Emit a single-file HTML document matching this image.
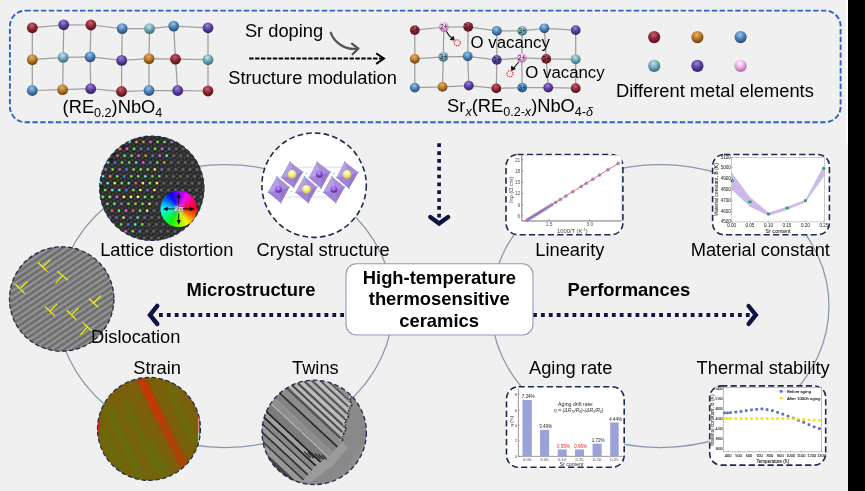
<!DOCTYPE html>
<html><head><meta charset="utf-8"><title>Graphical abstract</title>
<style>
html,body{margin:0;padding:0;background:#f0f0f0;}
body{width:865px;height:491px;overflow:hidden;position:relative;font-family:"Liberation Sans",sans-serif;}
svg{position:absolute;left:0;top:0;display:block;will-change:transform;}
text{font-family:"Liberation Sans",sans-serif;}
.t18{font-size:18.3px;}.t18b{font-size:18.3px;}
.b18{font-size:18.4px;font-weight:bold;}
.tiny{font-size:4.2px;fill:#222;}
</style></head><body>
<svg width="865" height="491" viewBox="0 0 865 491">
<defs>
<radialGradient id="g_red" cx="0.44" cy="0.3" r="0.72"><stop offset="0" stop-color="#c66270"/><stop offset="0.5" stop-color="#8e2636"/><stop offset="1" stop-color="#4a0e18"/></radialGradient>
<radialGradient id="g_purple" cx="0.44" cy="0.3" r="0.72"><stop offset="0" stop-color="#9a82d8"/><stop offset="0.5" stop-color="#5d419e"/><stop offset="1" stop-color="#2c1c58"/></radialGradient>
<radialGradient id="g_blue" cx="0.44" cy="0.3" r="0.72"><stop offset="0" stop-color="#98c6ec"/><stop offset="0.5" stop-color="#4a80b8"/><stop offset="1" stop-color="#264868"/></radialGradient>
<radialGradient id="g_cyan" cx="0.44" cy="0.3" r="0.72"><stop offset="0" stop-color="#bce6ee"/><stop offset="0.5" stop-color="#6ea8b4"/><stop offset="1" stop-color="#386470"/></radialGradient>
<radialGradient id="g_orange" cx="0.44" cy="0.3" r="0.72"><stop offset="0" stop-color="#e6b068"/><stop offset="0.5" stop-color="#b47a28"/><stop offset="1" stop-color="#5c3a0e"/></radialGradient>
<radialGradient id="g_pink" cx="0.44" cy="0.3" r="0.72"><stop offset="0" stop-color="#ffffff"/><stop offset="0.5" stop-color="#eaa6e2"/><stop offset="1" stop-color="#9c6c9c"/></radialGradient>
<radialGradient id="g_yellow" cx="0.44" cy="0.3" r="0.72"><stop offset="0" stop-color="#ffffd8"/><stop offset="0.5" stop-color="#f0f07c"/><stop offset="1" stop-color="#b8b848"/></radialGradient>
<radialGradient id="g_violet" cx="0.44" cy="0.3" r="0.72"><stop offset="0" stop-color="#c9a8ff"/><stop offset="0.5" stop-color="#8a4fe0"/><stop offset="1" stop-color="#4a2090"/></radialGradient>
<clipPath id="cLat"><circle cx="151.8" cy="188.2" r="52.2"/></clipPath>
<clipPath id="cDis"><circle cx="61.7" cy="299" r="52.2"/></clipPath>
<clipPath id="cStr"><circle cx="149" cy="428.9" r="51.5"/></clipPath>
<clipPath id="cTw"><circle cx="314.2" cy="432.4" r="52.2"/></clipPath>
<radialGradient id="blob" cx="0.5" cy="0.5" r="0.5"><stop offset="0" stop-color="#6a6a6a"/><stop offset="0.5" stop-color="#505050"/><stop offset="1" stop-color="#282828" stop-opacity="0.5"/></radialGradient><radialGradient id="blob2" cx="0.5" cy="0.5" r="0.5"><stop offset="0" stop-color="#464646"/><stop offset="0.6" stop-color="#363636"/><stop offset="1" stop-color="#222" stop-opacity="0.5"/></radialGradient>
<linearGradient id="stripe" x1="0" y1="0" x2="1" y2="0"><stop offset="0" stop-color="#626262"/><stop offset="0.5" stop-color="#9a9a9a"/><stop offset="1" stop-color="#626262"/></linearGradient>
<pattern id="pDis" width="5.0" height="10" patternUnits="userSpaceOnUse" patternTransform="rotate(56 61.7 299)"><rect width="5.0" height="10" fill="url(#stripe)"/></pattern>
</defs>
<rect x="0" y="0" width="865" height="491" fill="#f0f0f0"/>
<linearGradient id="wfade" x1="0" y1="0" x2="0" y2="1"><stop offset="0" stop-color="#fff"/><stop offset="0.9" stop-color="#fff"/><stop offset="1" stop-color="#f0f0f0"/></linearGradient><rect x="846" y="0" width="2.2" height="150" fill="url(#wfade)"/>
<rect x="848" y="0" width="17" height="491" fill="#000"/>
<g fill="none" stroke="#8896ae" stroke-width="1.25">
<ellipse cx="225" cy="306" rx="168" ry="141.5"/>
<ellipse cx="660" cy="306" rx="169" ry="141.5"/>
</g>
<rect x="9.9" y="10.6" width="830.7" height="111.6" rx="15.5" ry="15.5" fill="#f0f0f0" stroke="#2f62c4" stroke-width="1.9" stroke-dasharray="5.4 2.4"/>
<g stroke="#9e9e9e" stroke-width="1.25" fill="none">
<polyline points="32.3,27.8 63.7,24.8 90.9,25.0 122.2,28.6 149.5,28.6 173.7,26.1 208,27.8"/>
<polyline points="32.3,59.6 63.2,57.4 90.1,56.9 121.7,60.4 149,58.6 175.5,59.2 208,59.6"/>
<polyline points="32.3,90.5 62.6,89.69999999999999 90.7,88.69999999999999 121.5,91.5 149,90.5 177.7,90.5 208,91.0"/>
<polyline points="32.3,27.8 32.3,59.6 32.3,90.5"/>
<polyline points="63.7,24.8 63.2,57.4 62.6,89.69999999999999"/>
<polyline points="90.9,25.0 90.1,56.9 90.7,88.69999999999999"/>
<polyline points="122.2,28.6 121.7,60.4 121.5,91.5"/>
<polyline points="149.5,28.6 149,58.6 149,90.5"/>
<polyline points="173.7,26.1 175.5,59.2 177.7,90.5"/>
<polyline points="208,27.8 208,59.6 208,91.0"/>
</g>
<circle cx="32.3" cy="27.8" r="5.4" fill="url(#g_red)"/>
<circle cx="63.7" cy="24.8" r="5.4" fill="url(#g_purple)"/>
<circle cx="90.9" cy="25.0" r="5.4" fill="url(#g_red)"/>
<circle cx="122.2" cy="28.6" r="5.4" fill="url(#g_blue)"/>
<circle cx="149.5" cy="28.6" r="5.4" fill="url(#g_cyan)"/>
<circle cx="173.7" cy="26.1" r="5.4" fill="url(#g_blue)"/>
<circle cx="208.0" cy="27.8" r="5.4" fill="url(#g_purple)"/>
<circle cx="32.3" cy="59.6" r="5.4" fill="url(#g_orange)"/>
<circle cx="63.2" cy="57.4" r="5.4" fill="url(#g_cyan)"/>
<circle cx="90.1" cy="56.9" r="5.4" fill="url(#g_blue)"/>
<circle cx="121.7" cy="60.4" r="5.4" fill="url(#g_purple)"/>
<circle cx="149.0" cy="58.6" r="5.4" fill="url(#g_orange)"/>
<circle cx="175.5" cy="59.2" r="5.4" fill="url(#g_red)"/>
<circle cx="208.0" cy="59.6" r="5.4" fill="url(#g_cyan)"/>
<circle cx="32.3" cy="90.5" r="5.4" fill="url(#g_blue)"/>
<circle cx="62.6" cy="89.7" r="5.4" fill="url(#g_orange)"/>
<circle cx="90.7" cy="88.7" r="5.4" fill="url(#g_purple)"/>
<circle cx="121.5" cy="91.5" r="5.4" fill="url(#g_red)"/>
<circle cx="149.0" cy="90.5" r="5.4" fill="url(#g_blue)"/>
<circle cx="177.7" cy="90.5" r="5.4" fill="url(#g_purple)"/>
<circle cx="208.0" cy="91.0" r="5.4" fill="url(#g_red)"/>
<g stroke="#9e9e9e" stroke-width="1.25" fill="none">
<polyline points="414.8,30.1 443.8,27.0 468.2,26.8 496.8,30.900000000000002 522.2,30.900000000000002 544.4,28.3 575.7,30.1"/>
<polyline points="414.8,58.9 443.3,56.8 467.7,56.3 496.8,59.9 521.7,57.9 546.2,58.9 575.7,59.3"/>
<polyline points="414.8,87.6 442.5,86.89999999999999 468.8,85.6 496.3,88.39999999999999 522.2,87.6 548.2,87.6 575.7,88.2"/>
<polyline points="414.8,30.1 414.8,58.9 414.8,87.6"/>
<polyline points="443.8,27.0 443.3,56.8 442.5,86.89999999999999"/>
<polyline points="468.2,26.8 467.7,56.3 468.8,85.6"/>
<polyline points="496.8,30.900000000000002 496.8,59.9 496.3,88.39999999999999"/>
<polyline points="522.2,30.900000000000002 521.7,57.9 522.2,87.6"/>
<polyline points="544.4,28.3 546.2,58.9 548.2,87.6"/>
<polyline points="575.7,30.1 575.7,59.3 575.7,88.2"/>
</g>
<circle cx="414.8" cy="30.1" r="4.9" fill="url(#g_red)"/>
<text x="414.8" y="32.4" font-size="6.4" text-anchor="middle" fill="#111">3+</text>
<circle cx="443.8" cy="27.0" r="4.9" fill="url(#g_pink)"/>
<text x="443.8" y="29.3" font-size="6.4" text-anchor="middle" fill="#111">2+</text>
<circle cx="468.2" cy="26.8" r="4.9" fill="url(#g_red)"/>
<text x="468.2" y="29.1" font-size="6.4" text-anchor="middle" fill="#111">3+</text>
<circle cx="496.8" cy="30.9" r="4.9" fill="url(#g_blue)"/>
<circle cx="522.2" cy="30.9" r="4.9" fill="url(#g_cyan)"/>
<text x="522.2" y="33.2" font-size="6.4" text-anchor="middle" fill="#111">3+</text>
<circle cx="544.4" cy="28.3" r="4.9" fill="url(#g_blue)"/>
<circle cx="575.7" cy="30.1" r="4.9" fill="url(#g_purple)"/>
<circle cx="414.8" cy="58.9" r="4.9" fill="url(#g_orange)"/>
<circle cx="443.3" cy="56.8" r="4.9" fill="url(#g_cyan)"/>
<text x="443.3" y="59.1" font-size="6.4" text-anchor="middle" fill="#111">3+</text>
<circle cx="467.7" cy="56.3" r="4.9" fill="url(#g_blue)"/>
<circle cx="496.8" cy="59.9" r="4.9" fill="url(#g_purple)"/>
<text x="496.8" y="62.2" font-size="6.4" text-anchor="middle" fill="#111">3+</text>
<circle cx="521.7" cy="57.9" r="4.9" fill="url(#g_pink)"/>
<text x="521.7" y="60.2" font-size="6.4" text-anchor="middle" fill="#111">2+</text>
<circle cx="546.2" cy="58.9" r="4.9" fill="url(#g_red)"/>
<text x="546.2" y="61.2" font-size="6.4" text-anchor="middle" fill="#111">3+</text>
<circle cx="575.7" cy="59.3" r="4.9" fill="url(#g_cyan)"/>
<circle cx="414.8" cy="87.6" r="4.9" fill="url(#g_blue)"/>
<circle cx="442.5" cy="86.9" r="4.9" fill="url(#g_orange)"/>
<circle cx="468.8" cy="85.6" r="4.9" fill="url(#g_purple)"/>
<circle cx="496.3" cy="88.4" r="4.9" fill="url(#g_red)"/>
<circle cx="522.2" cy="87.6" r="4.9" fill="url(#g_blue)"/>
<text x="522.2" y="89.9" font-size="6.4" text-anchor="middle" fill="#111">3+</text>
<circle cx="548.2" cy="87.6" r="4.9" fill="url(#g_purple)"/>
<circle cx="575.7" cy="88.2" r="4.9" fill="url(#g_red)"/>
<g fill="none" stroke="#ee2a32" stroke-width="1.15" stroke-dasharray="1.5 0.9"><circle cx="457.3" cy="42.8" r="3.1"/><circle cx="510" cy="73.8" r="3.1"/></g>
<g fill="none" stroke="#111" stroke-width="1.1" stroke-linejoin="round"><path d="M446.3 31.2 Q448.5 36 453.5 39.6"/><path d="M450.2 39.4 L454 40 L453.2 36.2" fill="#111"/><path d="M518.8 62.0 L512.2 69.6"/><path d="M511.6 66 L511.8 70.2 L515.4 68.6" fill="#111"/></g>
<circle cx="654.2" cy="37.1" r="6.1" fill="url(#g_red)"/>
<circle cx="697.4" cy="37.1" r="6.1" fill="url(#g_orange)"/>
<circle cx="740.6" cy="37.1" r="6.1" fill="url(#g_blue)"/>
<circle cx="654.2" cy="65.9" r="6.1" fill="url(#g_cyan)"/>
<circle cx="697.4" cy="65.9" r="6.1" fill="url(#g_purple)"/>
<circle cx="740.6" cy="65.9" r="6.1" fill="url(#g_pink)"/>
<text class="t18" x="62.6" y="113.3">(RE<tspan font-size="12.6" dy="3.5">0.2</tspan><tspan dy="-3.5">)NbO</tspan><tspan font-size="12.6" dy="3.5">4</tspan></text>
<text class="t18" x="244.9" y="36.9">Sr doping</text>
<text class="t18" x="228.2" y="84">Structure modulation</text>
<text font-size="16.8" x="470.6" y="47.9">O vacancy</text>
<text font-size="16.8" x="525.3" y="77.7">O vacancy</text>
<text class="t18" x="447.1" y="112">Sr<tspan font-size="12.6" font-style="italic" dy="3.5">x</tspan><tspan dy="-3.5">(RE</tspan><tspan font-size="12.6" dy="3.5">0.2-<tspan font-style="italic">x</tspan></tspan><tspan dy="-3.5">)NbO</tspan><tspan font-size="12.6" dy="3.5">4-<tspan font-style="italic">δ</tspan></tspan></text>
<text class="t18" x="616.0" y="96.5">Different metal elements</text>
<g fill="none" stroke="#000" stroke-width="1.9"><path d="M249.2 58.55 H383" stroke-dasharray="4.4 1.5"/><path d="M376.2 53.4 L384 58.55 L376.2 63.9" stroke-linejoin="miter"/></g>
<g fill="none" stroke="#555" stroke-width="2.3" stroke-linecap="round" stroke-linejoin="round"><path d="M330.8 32.8 C334 41.5, 344 50.5, 358 48.7"/><path d="M352 43.6 L358.3 48.6 L352.6 54.2"/></g>
<g fill="none" stroke="#0d1445"><path d="M439.1 143.35 V219" stroke-width="3.7" stroke-dasharray="3.7 4.13"/><path d="M430.3 217.0 L439.1 223.5 L448.1 217.0" stroke-width="4.4" stroke-linecap="round" stroke-linejoin="miter"/></g>
<g fill="none" stroke="#0d1445"><path d="M159.0 315 H346" stroke-width="3.8" stroke-dasharray="3.8 4.08"/><path d="M157.3 305.9 L150.0 315 L157.3 324.0" stroke-width="4.4" stroke-linecap="round" stroke-linejoin="miter"/>
<path d="M533.1 315 H751" stroke-width="3.8" stroke-dasharray="3.8 4.08"/><path d="M748.6 306.0 L755.8 315 L748.6 323.9" stroke-width="4.4" stroke-linecap="round" stroke-linejoin="miter"/></g>
<rect x="346" y="263.7" width="187" height="71.3" rx="10.5" ry="10.5" fill="#fff" stroke="#8f9bb6" stroke-width="1.1"/>
<text class="b18" x="439.4" y="283.8" text-anchor="middle">High-temperature</text>
<text class="b18" x="439.3" y="305.4" text-anchor="middle">thermosensitive</text>
<text class="b18" x="439.1" y="327.3" text-anchor="middle">ceramics</text>
<text class="b18" x="186.6" y="296.4">Microstructure</text>
<text class="b18" x="567.5" y="296.4">Performances</text>
<g clip-path="url(#cLat)">
<rect x="98.60000000000001" y="135.0" width="106.4" height="106.4" fill="#1f1f1f"/>
<circle cx="104.9" cy="164.8" r="2.3" fill="url(#blob2)"/>
<circle cx="108.7" cy="167.1" r="2.3" fill="url(#blob2)"/>
<circle cx="102.4" cy="171.7" r="2.3" fill="url(#blob2)"/>
<circle cx="106.3" cy="174.0" r="2.3" fill="url(#blob2)"/>
<circle cx="100.0" cy="178.5" r="2.3" fill="url(#blob2)"/>
<circle cx="103.8" cy="180.8" r="2.3" fill="url(#blob2)"/>
<circle cx="116.8" cy="151.1" r="2.3" fill="url(#blob2)"/>
<circle cx="120.7" cy="153.4" r="2.3" fill="url(#blob2)"/>
<circle cx="114.3" cy="157.9" r="2.3" fill="url(#blob2)"/>
<circle cx="118.2" cy="160.2" r="2.3" fill="url(#blob2)"/>
<circle cx="111.9" cy="164.8" r="2.3" fill="url(#blob2)"/>
<circle cx="115.8" cy="167.1" r="2.3" fill="url(#blob2)"/>
<circle cx="109.4" cy="171.7" r="2.3" fill="url(#blob2)"/>
<circle cx="113.3" cy="174.0" r="2.3" fill="url(#blob2)"/>
<circle cx="107.0" cy="178.5" r="2.3" fill="url(#blob2)"/>
<circle cx="110.9" cy="180.8" r="2.3" fill="url(#blob2)"/>
<circle cx="104.5" cy="185.4" r="2.3" fill="url(#blob2)"/>
<circle cx="108.4" cy="187.7" r="2.3" fill="url(#blob2)"/>
<circle cx="102.1" cy="192.3" r="2.3" fill="url(#blob2)"/>
<circle cx="106.0" cy="194.6" r="2.3" fill="url(#blob2)"/>
<circle cx="99.6" cy="199.2" r="2.3" fill="url(#blob2)"/>
<circle cx="103.5" cy="201.5" r="2.3" fill="url(#blob2)"/>
<circle cx="126.3" cy="144.2" r="2.3" fill="url(#blob2)"/>
<circle cx="130.1" cy="146.5" r="2.3" fill="url(#blob2)"/>
<circle cx="123.8" cy="151.1" r="2.3" fill="url(#blob2)"/>
<circle cx="127.7" cy="153.4" r="2.3" fill="url(#blob2)"/>
<circle cx="121.4" cy="157.9" r="2.3" fill="url(#blob2)"/>
<circle cx="125.2" cy="160.2" r="2.3" fill="url(#blob2)"/>
<circle cx="118.9" cy="164.8" r="2.3" fill="url(#blob2)"/>
<circle cx="122.8" cy="167.1" r="2.3" fill="url(#blob2)"/>
<circle cx="116.5" cy="171.7" r="2.3" fill="url(#blob2)"/>
<circle cx="120.3" cy="174.0" r="2.3" fill="url(#blob2)"/>
<circle cx="114.0" cy="178.5" r="2.3" fill="url(#blob2)"/>
<circle cx="117.9" cy="180.8" r="2.3" fill="url(#blob2)"/>
<circle cx="111.6" cy="185.4" r="2.3" fill="url(#blob2)"/>
<circle cx="115.4" cy="187.7" r="2.3" fill="url(#blob2)"/>
<circle cx="109.1" cy="192.3" r="2.3" fill="url(#blob2)"/>
<circle cx="113.0" cy="194.6" r="2.3" fill="url(#blob2)"/>
<circle cx="106.7" cy="199.2" r="2.3" fill="url(#blob2)"/>
<circle cx="110.5" cy="201.5" r="2.3" fill="url(#blob2)"/>
<circle cx="104.2" cy="206.0" r="2.3" fill="url(#blob2)"/>
<circle cx="108.1" cy="208.3" r="2.3" fill="url(#blob2)"/>
<circle cx="135.8" cy="137.3" r="2.3" fill="url(#blob2)"/>
<circle cx="139.6" cy="139.6" r="2.3" fill="url(#blob2)"/>
<circle cx="133.3" cy="144.2" r="2.3" fill="url(#blob2)"/>
<circle cx="137.2" cy="146.5" r="2.3" fill="url(#blob2)"/>
<circle cx="130.8" cy="151.1" r="2.3" fill="url(#blob2)"/>
<circle cx="134.7" cy="153.4" r="2.3" fill="url(#blob2)"/>
<circle cx="128.4" cy="157.9" r="2.3" fill="url(#blob2)"/>
<circle cx="132.3" cy="160.2" r="2.3" fill="url(#blob2)"/>
<circle cx="126.0" cy="164.8" r="2.3" fill="url(#blob2)"/>
<circle cx="129.8" cy="167.1" r="2.3" fill="url(#blob2)"/>
<circle cx="123.5" cy="171.7" r="2.3" fill="url(#blob2)"/>
<circle cx="127.4" cy="174.0" r="2.3" fill="url(#blob2)"/>
<circle cx="121.1" cy="178.5" r="2.3" fill="url(#blob2)"/>
<circle cx="124.9" cy="180.8" r="2.3" fill="url(#blob2)"/>
<circle cx="118.6" cy="185.4" r="2.3" fill="url(#blob2)"/>
<circle cx="122.5" cy="187.7" r="2.3" fill="url(#blob2)"/>
<circle cx="116.2" cy="192.3" r="2.3" fill="url(#blob2)"/>
<circle cx="120.0" cy="194.6" r="2.3" fill="url(#blob2)"/>
<circle cx="113.7" cy="199.2" r="2.3" fill="url(#blob2)"/>
<circle cx="117.6" cy="201.5" r="2.3" fill="url(#blob2)"/>
<circle cx="111.2" cy="206.0" r="2.3" fill="url(#blob2)"/>
<circle cx="115.1" cy="208.3" r="2.3" fill="url(#blob2)"/>
<circle cx="108.8" cy="212.9" r="2.3" fill="url(#blob2)"/>
<circle cx="112.7" cy="215.2" r="2.3" fill="url(#blob2)"/>
<circle cx="106.4" cy="219.8" r="2.3" fill="url(#blob2)"/>
<circle cx="110.2" cy="222.1" r="2.3" fill="url(#blob2)"/>
<circle cx="142.8" cy="137.3" r="2.3" fill="url(#blob2)"/>
<circle cx="146.7" cy="139.6" r="2.3" fill="url(#blob2)"/>
<circle cx="140.3" cy="144.2" r="2.3" fill="url(#blob2)"/>
<circle cx="144.2" cy="146.5" r="2.3" fill="url(#blob2)"/>
<circle cx="137.9" cy="151.1" r="2.3" fill="url(#blob2)"/>
<circle cx="141.8" cy="153.4" r="2.3" fill="url(#blob2)"/>
<circle cx="135.4" cy="157.9" r="2.3" fill="url(#blob2)"/>
<circle cx="139.3" cy="160.2" r="2.3" fill="url(#blob2)"/>
<circle cx="133.0" cy="164.8" r="2.3" fill="url(#blob2)"/>
<circle cx="136.9" cy="167.1" r="2.3" fill="url(#blob2)"/>
<circle cx="130.5" cy="171.7" r="2.3" fill="url(#blob2)"/>
<circle cx="134.4" cy="174.0" r="2.3" fill="url(#blob2)"/>
<circle cx="128.1" cy="178.5" r="2.3" fill="url(#blob2)"/>
<circle cx="132.0" cy="180.8" r="2.3" fill="url(#blob2)"/>
<circle cx="125.6" cy="185.4" r="2.3" fill="url(#blob2)"/>
<circle cx="129.5" cy="187.7" r="2.3" fill="url(#blob2)"/>
<circle cx="123.2" cy="192.3" r="2.3" fill="url(#blob2)"/>
<circle cx="127.0" cy="194.6" r="2.3" fill="url(#blob2)"/>
<circle cx="120.7" cy="199.2" r="2.3" fill="url(#blob2)"/>
<circle cx="124.6" cy="201.5" r="2.3" fill="url(#blob2)"/>
<circle cx="118.3" cy="206.0" r="2.3" fill="url(#blob2)"/>
<circle cx="122.1" cy="208.3" r="2.3" fill="url(#blob2)"/>
<circle cx="115.8" cy="212.9" r="2.3" fill="url(#blob2)"/>
<circle cx="119.7" cy="215.2" r="2.3" fill="url(#blob2)"/>
<circle cx="113.4" cy="219.8" r="2.3" fill="url(#blob2)"/>
<circle cx="117.2" cy="222.1" r="2.3" fill="url(#blob2)"/>
<circle cx="110.9" cy="226.6" r="2.3" fill="url(#blob2)"/>
<circle cx="114.8" cy="228.9" r="2.3" fill="url(#blob2)"/>
<circle cx="149.8" cy="137.3" r="2.3" fill="url(#blob2)"/>
<circle cx="153.7" cy="139.6" r="2.3" fill="url(#blob2)"/>
<circle cx="147.4" cy="144.2" r="2.3" fill="url(#blob2)"/>
<circle cx="151.2" cy="146.5" r="2.3" fill="url(#blob2)"/>
<circle cx="144.9" cy="151.1" r="2.3" fill="url(#blob2)"/>
<circle cx="148.8" cy="153.4" r="2.3" fill="url(#blob2)"/>
<circle cx="142.5" cy="157.9" r="2.3" fill="url(#blob2)"/>
<circle cx="146.3" cy="160.2" r="2.3" fill="url(#blob2)"/>
<circle cx="140.0" cy="164.8" r="2.3" fill="url(#blob2)"/>
<circle cx="143.9" cy="167.1" r="2.3" fill="url(#blob2)"/>
<circle cx="137.6" cy="171.7" r="2.3" fill="url(#blob2)"/>
<circle cx="141.4" cy="174.0" r="2.3" fill="url(#blob2)"/>
<circle cx="135.1" cy="178.5" r="2.3" fill="url(#blob2)"/>
<circle cx="139.0" cy="180.8" r="2.3" fill="url(#blob2)"/>
<circle cx="132.7" cy="185.4" r="2.3" fill="url(#blob2)"/>
<circle cx="136.5" cy="187.7" r="2.3" fill="url(#blob2)"/>
<circle cx="130.2" cy="192.3" r="2.3" fill="url(#blob2)"/>
<circle cx="134.1" cy="194.6" r="2.3" fill="url(#blob2)"/>
<circle cx="127.8" cy="199.2" r="2.3" fill="url(#blob2)"/>
<circle cx="131.6" cy="201.5" r="2.3" fill="url(#blob2)"/>
<circle cx="125.3" cy="206.0" r="2.3" fill="url(#blob2)"/>
<circle cx="129.2" cy="208.3" r="2.3" fill="url(#blob2)"/>
<circle cx="122.9" cy="212.9" r="2.3" fill="url(#blob2)"/>
<circle cx="126.7" cy="215.2" r="2.3" fill="url(#blob2)"/>
<circle cx="120.4" cy="219.8" r="2.3" fill="url(#blob2)"/>
<circle cx="124.3" cy="222.1" r="2.3" fill="url(#blob2)"/>
<circle cx="118.0" cy="226.6" r="2.3" fill="url(#blob2)"/>
<circle cx="121.8" cy="228.9" r="2.3" fill="url(#blob2)"/>
<circle cx="156.8" cy="137.3" r="2.3" fill="url(#blob2)"/>
<circle cx="160.7" cy="139.6" r="2.3" fill="url(#blob2)"/>
<circle cx="154.4" cy="144.2" r="2.3" fill="url(#blob2)"/>
<circle cx="158.3" cy="146.5" r="2.3" fill="url(#blob2)"/>
<circle cx="151.9" cy="151.1" r="2.3" fill="url(#blob2)"/>
<circle cx="155.8" cy="153.4" r="2.3" fill="url(#blob2)"/>
<circle cx="149.5" cy="157.9" r="2.3" fill="url(#blob2)"/>
<circle cx="153.4" cy="160.2" r="2.3" fill="url(#blob2)"/>
<circle cx="147.0" cy="164.8" r="2.3" fill="url(#blob2)"/>
<circle cx="150.9" cy="167.1" r="2.3" fill="url(#blob2)"/>
<circle cx="144.6" cy="171.7" r="2.3" fill="url(#blob2)"/>
<circle cx="148.5" cy="174.0" r="2.3" fill="url(#blob2)"/>
<circle cx="142.1" cy="178.5" r="2.3" fill="url(#blob2)"/>
<circle cx="146.0" cy="180.8" r="2.3" fill="url(#blob2)"/>
<circle cx="139.7" cy="185.4" r="2.3" fill="url(#blob2)"/>
<circle cx="143.6" cy="187.7" r="2.3" fill="url(#blob2)"/>
<circle cx="137.2" cy="192.3" r="2.3" fill="url(#blob2)"/>
<circle cx="141.1" cy="194.6" r="2.3" fill="url(#blob2)"/>
<circle cx="134.8" cy="199.2" r="2.3" fill="url(#blob2)"/>
<circle cx="138.7" cy="201.5" r="2.3" fill="url(#blob2)"/>
<circle cx="132.3" cy="206.0" r="2.3" fill="url(#blob2)"/>
<circle cx="136.2" cy="208.3" r="2.3" fill="url(#blob2)"/>
<circle cx="129.9" cy="212.9" r="2.3" fill="url(#blob2)"/>
<circle cx="133.8" cy="215.2" r="2.3" fill="url(#blob2)"/>
<circle cx="127.4" cy="219.8" r="2.3" fill="url(#blob2)"/>
<circle cx="131.3" cy="222.1" r="2.3" fill="url(#blob2)"/>
<circle cx="125.0" cy="226.6" r="2.3" fill="url(#blob2)"/>
<circle cx="128.9" cy="228.9" r="2.3" fill="url(#blob2)"/>
<circle cx="122.5" cy="233.5" r="2.3" fill="url(#blob2)"/>
<circle cx="126.4" cy="235.8" r="2.3" fill="url(#blob2)"/>
<circle cx="163.9" cy="137.3" r="2.3" fill="url(#blob2)"/>
<circle cx="167.7" cy="139.6" r="2.3" fill="url(#blob2)"/>
<circle cx="161.4" cy="144.2" r="2.3" fill="url(#blob2)"/>
<circle cx="165.3" cy="146.5" r="2.3" fill="url(#blob2)"/>
<circle cx="159.0" cy="151.1" r="2.3" fill="url(#blob2)"/>
<circle cx="162.8" cy="153.4" r="2.3" fill="url(#blob2)"/>
<circle cx="156.5" cy="157.9" r="2.3" fill="url(#blob2)"/>
<circle cx="160.4" cy="160.2" r="2.3" fill="url(#blob2)"/>
<circle cx="154.1" cy="164.8" r="2.3" fill="url(#blob2)"/>
<circle cx="157.9" cy="167.1" r="2.3" fill="url(#blob2)"/>
<circle cx="151.6" cy="171.7" r="2.3" fill="url(#blob2)"/>
<circle cx="155.5" cy="174.0" r="2.3" fill="url(#blob2)"/>
<circle cx="149.2" cy="178.5" r="2.3" fill="url(#blob2)"/>
<circle cx="153.0" cy="180.8" r="2.3" fill="url(#blob2)"/>
<circle cx="146.7" cy="185.4" r="2.3" fill="url(#blob2)"/>
<circle cx="150.6" cy="187.7" r="2.3" fill="url(#blob2)"/>
<circle cx="144.3" cy="192.3" r="2.3" fill="url(#blob2)"/>
<circle cx="148.1" cy="194.6" r="2.3" fill="url(#blob2)"/>
<circle cx="141.8" cy="199.2" r="2.3" fill="url(#blob2)"/>
<circle cx="145.7" cy="201.5" r="2.3" fill="url(#blob2)"/>
<circle cx="139.4" cy="206.0" r="2.3" fill="url(#blob2)"/>
<circle cx="143.2" cy="208.3" r="2.3" fill="url(#blob2)"/>
<circle cx="136.9" cy="212.9" r="2.3" fill="url(#blob2)"/>
<circle cx="140.8" cy="215.2" r="2.3" fill="url(#blob2)"/>
<circle cx="134.5" cy="219.8" r="2.3" fill="url(#blob2)"/>
<circle cx="138.3" cy="222.1" r="2.3" fill="url(#blob2)"/>
<circle cx="132.0" cy="226.6" r="2.3" fill="url(#blob2)"/>
<circle cx="135.9" cy="228.9" r="2.3" fill="url(#blob2)"/>
<circle cx="129.6" cy="233.5" r="2.3" fill="url(#blob2)"/>
<circle cx="133.4" cy="235.8" r="2.3" fill="url(#blob2)"/>
<circle cx="127.1" cy="240.4" r="2.3" fill="url(#blob2)"/>
<circle cx="131.0" cy="242.7" r="2.3" fill="url(#blob2)"/>
<circle cx="170.9" cy="137.3" r="2.3" fill="url(#blob2)"/>
<circle cx="174.8" cy="139.6" r="2.3" fill="url(#blob2)"/>
<circle cx="168.5" cy="144.2" r="2.3" fill="url(#blob2)"/>
<circle cx="172.3" cy="146.5" r="2.3" fill="url(#blob2)"/>
<circle cx="166.0" cy="151.1" r="2.3" fill="url(#blob2)"/>
<circle cx="169.9" cy="153.4" r="2.3" fill="url(#blob2)"/>
<circle cx="163.6" cy="157.9" r="2.3" fill="url(#blob2)"/>
<circle cx="167.4" cy="160.2" r="2.3" fill="url(#blob2)"/>
<circle cx="161.1" cy="164.8" r="2.3" fill="url(#blob2)"/>
<circle cx="165.0" cy="167.1" r="2.3" fill="url(#blob2)"/>
<circle cx="158.7" cy="171.7" r="2.3" fill="url(#blob2)"/>
<circle cx="162.5" cy="174.0" r="2.3" fill="url(#blob2)"/>
<circle cx="156.2" cy="178.5" r="2.3" fill="url(#blob2)"/>
<circle cx="160.1" cy="180.8" r="2.3" fill="url(#blob2)"/>
<circle cx="153.8" cy="185.4" r="2.3" fill="url(#blob2)"/>
<circle cx="157.6" cy="187.7" r="2.3" fill="url(#blob2)"/>
<circle cx="151.3" cy="192.3" r="2.3" fill="url(#blob2)"/>
<circle cx="155.2" cy="194.6" r="2.3" fill="url(#blob2)"/>
<circle cx="148.9" cy="199.2" r="2.3" fill="url(#blob2)"/>
<circle cx="152.7" cy="201.5" r="2.3" fill="url(#blob2)"/>
<circle cx="146.4" cy="206.0" r="2.3" fill="url(#blob2)"/>
<circle cx="150.3" cy="208.3" r="2.3" fill="url(#blob2)"/>
<circle cx="144.0" cy="212.9" r="2.3" fill="url(#blob2)"/>
<circle cx="147.8" cy="215.2" r="2.3" fill="url(#blob2)"/>
<circle cx="141.5" cy="219.8" r="2.3" fill="url(#blob2)"/>
<circle cx="145.4" cy="222.1" r="2.3" fill="url(#blob2)"/>
<circle cx="139.1" cy="226.6" r="2.3" fill="url(#blob2)"/>
<circle cx="142.9" cy="228.9" r="2.3" fill="url(#blob2)"/>
<circle cx="136.6" cy="233.5" r="2.3" fill="url(#blob2)"/>
<circle cx="140.5" cy="235.8" r="2.3" fill="url(#blob2)"/>
<circle cx="134.2" cy="240.4" r="2.3" fill="url(#blob2)"/>
<circle cx="138.0" cy="242.7" r="2.3" fill="url(#blob2)"/>
<circle cx="177.9" cy="137.3" r="2.3" fill="url(#blob2)"/>
<circle cx="181.8" cy="139.6" r="2.3" fill="url(#blob2)"/>
<circle cx="175.5" cy="144.2" r="2.3" fill="url(#blob2)"/>
<circle cx="179.4" cy="146.5" r="2.3" fill="url(#blob2)"/>
<circle cx="173.0" cy="151.1" r="2.3" fill="url(#blob2)"/>
<circle cx="176.9" cy="153.4" r="2.3" fill="url(#blob2)"/>
<circle cx="170.6" cy="157.9" r="2.3" fill="url(#blob2)"/>
<circle cx="174.5" cy="160.2" r="2.3" fill="url(#blob2)"/>
<circle cx="168.1" cy="164.8" r="2.3" fill="url(#blob2)"/>
<circle cx="172.0" cy="167.1" r="2.3" fill="url(#blob2)"/>
<circle cx="165.7" cy="171.7" r="2.3" fill="url(#blob2)"/>
<circle cx="169.6" cy="174.0" r="2.3" fill="url(#blob2)"/>
<circle cx="163.2" cy="178.5" r="2.3" fill="url(#blob2)"/>
<circle cx="167.1" cy="180.8" r="2.3" fill="url(#blob2)"/>
<circle cx="160.8" cy="185.4" r="2.3" fill="url(#blob2)"/>
<circle cx="164.7" cy="187.7" r="2.3" fill="url(#blob2)"/>
<circle cx="158.3" cy="192.3" r="2.3" fill="url(#blob2)"/>
<circle cx="162.2" cy="194.6" r="2.3" fill="url(#blob2)"/>
<circle cx="155.9" cy="199.2" r="2.3" fill="url(#blob2)"/>
<circle cx="159.8" cy="201.5" r="2.3" fill="url(#blob2)"/>
<circle cx="153.4" cy="206.0" r="2.3" fill="url(#blob2)"/>
<circle cx="157.3" cy="208.3" r="2.3" fill="url(#blob2)"/>
<circle cx="151.0" cy="212.9" r="2.3" fill="url(#blob2)"/>
<circle cx="154.9" cy="215.2" r="2.3" fill="url(#blob2)"/>
<circle cx="148.5" cy="219.8" r="2.3" fill="url(#blob2)"/>
<circle cx="152.4" cy="222.1" r="2.3" fill="url(#blob2)"/>
<circle cx="146.1" cy="226.6" r="2.3" fill="url(#blob2)"/>
<circle cx="150.0" cy="228.9" r="2.3" fill="url(#blob2)"/>
<circle cx="143.6" cy="233.5" r="2.3" fill="url(#blob2)"/>
<circle cx="147.5" cy="235.8" r="2.3" fill="url(#blob2)"/>
<circle cx="141.2" cy="240.4" r="2.3" fill="url(#blob2)"/>
<circle cx="145.1" cy="242.7" r="2.3" fill="url(#blob2)"/>
<circle cx="182.5" cy="144.2" r="2.3" fill="url(#blob2)"/>
<circle cx="186.4" cy="146.5" r="2.3" fill="url(#blob2)"/>
<circle cx="180.1" cy="151.1" r="2.3" fill="url(#blob2)"/>
<circle cx="183.9" cy="153.4" r="2.3" fill="url(#blob2)"/>
<circle cx="177.6" cy="157.9" r="2.3" fill="url(#blob2)"/>
<circle cx="181.5" cy="160.2" r="2.3" fill="url(#blob2)"/>
<circle cx="175.2" cy="164.8" r="2.3" fill="url(#blob2)"/>
<circle cx="179.0" cy="167.1" r="2.3" fill="url(#blob2)"/>
<circle cx="172.7" cy="171.7" r="2.3" fill="url(#blob2)"/>
<circle cx="176.6" cy="174.0" r="2.3" fill="url(#blob2)"/>
<circle cx="170.3" cy="178.5" r="2.3" fill="url(#blob2)"/>
<circle cx="174.1" cy="180.8" r="2.3" fill="url(#blob2)"/>
<circle cx="167.8" cy="185.4" r="2.3" fill="url(#blob2)"/>
<circle cx="171.7" cy="187.7" r="2.3" fill="url(#blob2)"/>
<circle cx="165.4" cy="192.3" r="2.3" fill="url(#blob2)"/>
<circle cx="169.2" cy="194.6" r="2.3" fill="url(#blob2)"/>
<circle cx="162.9" cy="199.2" r="2.3" fill="url(#blob2)"/>
<circle cx="166.8" cy="201.5" r="2.3" fill="url(#blob2)"/>
<circle cx="160.5" cy="206.0" r="2.3" fill="url(#blob2)"/>
<circle cx="164.3" cy="208.3" r="2.3" fill="url(#blob2)"/>
<circle cx="158.0" cy="212.9" r="2.3" fill="url(#blob2)"/>
<circle cx="161.9" cy="215.2" r="2.3" fill="url(#blob2)"/>
<circle cx="155.6" cy="219.8" r="2.3" fill="url(#blob2)"/>
<circle cx="159.4" cy="222.1" r="2.3" fill="url(#blob2)"/>
<circle cx="153.1" cy="226.6" r="2.3" fill="url(#blob2)"/>
<circle cx="157.0" cy="228.9" r="2.3" fill="url(#blob2)"/>
<circle cx="150.7" cy="233.5" r="2.3" fill="url(#blob2)"/>
<circle cx="154.5" cy="235.8" r="2.3" fill="url(#blob2)"/>
<circle cx="148.2" cy="240.4" r="2.3" fill="url(#blob2)"/>
<circle cx="152.1" cy="242.7" r="2.3" fill="url(#blob2)"/>
<circle cx="145.8" cy="247.2" r="2.3" fill="url(#blob2)"/>
<circle cx="149.6" cy="249.5" r="2.3" fill="url(#blob2)"/>
<circle cx="189.5" cy="144.2" r="2.3" fill="url(#blob2)"/>
<circle cx="193.4" cy="146.5" r="2.3" fill="url(#blob2)"/>
<circle cx="187.1" cy="151.1" r="2.3" fill="url(#blob2)"/>
<circle cx="191.0" cy="153.4" r="2.3" fill="url(#blob2)"/>
<circle cx="184.6" cy="157.9" r="2.3" fill="url(#blob2)"/>
<circle cx="188.5" cy="160.2" r="2.3" fill="url(#blob2)"/>
<circle cx="182.2" cy="164.8" r="2.3" fill="url(#blob2)"/>
<circle cx="186.1" cy="167.1" r="2.3" fill="url(#blob2)"/>
<circle cx="179.7" cy="171.7" r="2.3" fill="url(#blob2)"/>
<circle cx="183.6" cy="174.0" r="2.3" fill="url(#blob2)"/>
<circle cx="177.3" cy="178.5" r="2.3" fill="url(#blob2)"/>
<circle cx="181.2" cy="180.8" r="2.3" fill="url(#blob2)"/>
<circle cx="174.8" cy="185.4" r="2.3" fill="url(#blob2)"/>
<circle cx="178.7" cy="187.7" r="2.3" fill="url(#blob2)"/>
<circle cx="172.4" cy="192.3" r="2.3" fill="url(#blob2)"/>
<circle cx="176.3" cy="194.6" r="2.3" fill="url(#blob2)"/>
<circle cx="169.9" cy="199.2" r="2.3" fill="url(#blob2)"/>
<circle cx="173.8" cy="201.5" r="2.3" fill="url(#blob2)"/>
<circle cx="167.5" cy="206.0" r="2.3" fill="url(#blob2)"/>
<circle cx="171.4" cy="208.3" r="2.3" fill="url(#blob2)"/>
<circle cx="165.0" cy="212.9" r="2.3" fill="url(#blob2)"/>
<circle cx="168.9" cy="215.2" r="2.3" fill="url(#blob2)"/>
<circle cx="162.6" cy="219.8" r="2.3" fill="url(#blob2)"/>
<circle cx="166.5" cy="222.1" r="2.3" fill="url(#blob2)"/>
<circle cx="160.1" cy="226.6" r="2.3" fill="url(#blob2)"/>
<circle cx="164.0" cy="228.9" r="2.3" fill="url(#blob2)"/>
<circle cx="157.7" cy="233.5" r="2.3" fill="url(#blob2)"/>
<circle cx="161.6" cy="235.8" r="2.3" fill="url(#blob2)"/>
<circle cx="155.2" cy="240.4" r="2.3" fill="url(#blob2)"/>
<circle cx="159.1" cy="242.7" r="2.3" fill="url(#blob2)"/>
<circle cx="152.8" cy="247.2" r="2.3" fill="url(#blob2)"/>
<circle cx="156.7" cy="249.5" r="2.3" fill="url(#blob2)"/>
<circle cx="194.1" cy="151.1" r="2.3" fill="url(#blob2)"/>
<circle cx="198.0" cy="153.4" r="2.3" fill="url(#blob2)"/>
<circle cx="191.7" cy="157.9" r="2.3" fill="url(#blob2)"/>
<circle cx="195.5" cy="160.2" r="2.3" fill="url(#blob2)"/>
<circle cx="189.2" cy="164.8" r="2.3" fill="url(#blob2)"/>
<circle cx="193.1" cy="167.1" r="2.3" fill="url(#blob2)"/>
<circle cx="186.8" cy="171.7" r="2.3" fill="url(#blob2)"/>
<circle cx="190.6" cy="174.0" r="2.3" fill="url(#blob2)"/>
<circle cx="184.3" cy="178.5" r="2.3" fill="url(#blob2)"/>
<circle cx="188.2" cy="180.8" r="2.3" fill="url(#blob2)"/>
<circle cx="181.9" cy="185.4" r="2.3" fill="url(#blob2)"/>
<circle cx="185.7" cy="187.7" r="2.3" fill="url(#blob2)"/>
<circle cx="179.4" cy="192.3" r="2.3" fill="url(#blob2)"/>
<circle cx="183.3" cy="194.6" r="2.3" fill="url(#blob2)"/>
<circle cx="177.0" cy="199.2" r="2.3" fill="url(#blob2)"/>
<circle cx="180.8" cy="201.5" r="2.3" fill="url(#blob2)"/>
<circle cx="174.5" cy="206.0" r="2.3" fill="url(#blob2)"/>
<circle cx="178.4" cy="208.3" r="2.3" fill="url(#blob2)"/>
<circle cx="172.1" cy="212.9" r="2.3" fill="url(#blob2)"/>
<circle cx="175.9" cy="215.2" r="2.3" fill="url(#blob2)"/>
<circle cx="169.6" cy="219.8" r="2.3" fill="url(#blob2)"/>
<circle cx="173.5" cy="222.1" r="2.3" fill="url(#blob2)"/>
<circle cx="167.2" cy="226.6" r="2.3" fill="url(#blob2)"/>
<circle cx="171.0" cy="228.9" r="2.3" fill="url(#blob2)"/>
<circle cx="164.7" cy="233.5" r="2.3" fill="url(#blob2)"/>
<circle cx="168.6" cy="235.8" r="2.3" fill="url(#blob2)"/>
<circle cx="162.3" cy="240.4" r="2.3" fill="url(#blob2)"/>
<circle cx="166.1" cy="242.7" r="2.3" fill="url(#blob2)"/>
<circle cx="159.8" cy="247.2" r="2.3" fill="url(#blob2)"/>
<circle cx="163.7" cy="249.5" r="2.3" fill="url(#blob2)"/>
<circle cx="198.7" cy="157.9" r="2.3" fill="url(#blob2)"/>
<circle cx="202.6" cy="160.2" r="2.3" fill="url(#blob2)"/>
<circle cx="196.2" cy="164.8" r="2.3" fill="url(#blob2)"/>
<circle cx="200.1" cy="167.1" r="2.3" fill="url(#blob2)"/>
<circle cx="193.8" cy="171.7" r="2.3" fill="url(#blob2)"/>
<circle cx="197.7" cy="174.0" r="2.3" fill="url(#blob2)"/>
<circle cx="191.3" cy="178.5" r="2.3" fill="url(#blob2)"/>
<circle cx="195.2" cy="180.8" r="2.3" fill="url(#blob2)"/>
<circle cx="188.9" cy="185.4" r="2.3" fill="url(#blob2)"/>
<circle cx="192.8" cy="187.7" r="2.3" fill="url(#blob2)"/>
<circle cx="186.4" cy="192.3" r="2.3" fill="url(#blob2)"/>
<circle cx="190.3" cy="194.6" r="2.3" fill="url(#blob2)"/>
<circle cx="184.0" cy="199.2" r="2.3" fill="url(#blob2)"/>
<circle cx="187.9" cy="201.5" r="2.3" fill="url(#blob2)"/>
<circle cx="181.5" cy="206.0" r="2.3" fill="url(#blob2)"/>
<circle cx="185.4" cy="208.3" r="2.3" fill="url(#blob2)"/>
<circle cx="179.1" cy="212.9" r="2.3" fill="url(#blob2)"/>
<circle cx="183.0" cy="215.2" r="2.3" fill="url(#blob2)"/>
<circle cx="176.6" cy="219.8" r="2.3" fill="url(#blob2)"/>
<circle cx="180.5" cy="222.1" r="2.3" fill="url(#blob2)"/>
<circle cx="174.2" cy="226.6" r="2.3" fill="url(#blob2)"/>
<circle cx="178.1" cy="228.9" r="2.3" fill="url(#blob2)"/>
<circle cx="171.8" cy="233.5" r="2.3" fill="url(#blob2)"/>
<circle cx="175.6" cy="235.8" r="2.3" fill="url(#blob2)"/>
<circle cx="169.3" cy="240.4" r="2.3" fill="url(#blob2)"/>
<circle cx="173.2" cy="242.7" r="2.3" fill="url(#blob2)"/>
<circle cx="166.8" cy="247.2" r="2.3" fill="url(#blob2)"/>
<circle cx="170.7" cy="249.5" r="2.3" fill="url(#blob2)"/>
<circle cx="203.3" cy="164.8" r="2.3" fill="url(#blob2)"/>
<circle cx="207.2" cy="167.1" r="2.3" fill="url(#blob2)"/>
<circle cx="200.8" cy="171.7" r="2.3" fill="url(#blob2)"/>
<circle cx="204.7" cy="174.0" r="2.3" fill="url(#blob2)"/>
<circle cx="198.4" cy="178.5" r="2.3" fill="url(#blob2)"/>
<circle cx="202.3" cy="180.8" r="2.3" fill="url(#blob2)"/>
<circle cx="195.9" cy="185.4" r="2.3" fill="url(#blob2)"/>
<circle cx="199.8" cy="187.7" r="2.3" fill="url(#blob2)"/>
<circle cx="193.5" cy="192.3" r="2.3" fill="url(#blob2)"/>
<circle cx="197.4" cy="194.6" r="2.3" fill="url(#blob2)"/>
<circle cx="191.0" cy="199.2" r="2.3" fill="url(#blob2)"/>
<circle cx="194.9" cy="201.5" r="2.3" fill="url(#blob2)"/>
<circle cx="188.6" cy="206.0" r="2.3" fill="url(#blob2)"/>
<circle cx="192.5" cy="208.3" r="2.3" fill="url(#blob2)"/>
<circle cx="186.1" cy="212.9" r="2.3" fill="url(#blob2)"/>
<circle cx="190.0" cy="215.2" r="2.3" fill="url(#blob2)"/>
<circle cx="183.7" cy="219.8" r="2.3" fill="url(#blob2)"/>
<circle cx="187.6" cy="222.1" r="2.3" fill="url(#blob2)"/>
<circle cx="181.2" cy="226.6" r="2.3" fill="url(#blob2)"/>
<circle cx="185.1" cy="228.9" r="2.3" fill="url(#blob2)"/>
<circle cx="178.8" cy="233.5" r="2.3" fill="url(#blob2)"/>
<circle cx="182.7" cy="235.8" r="2.3" fill="url(#blob2)"/>
<circle cx="176.3" cy="240.4" r="2.3" fill="url(#blob2)"/>
<circle cx="180.2" cy="242.7" r="2.3" fill="url(#blob2)"/>
<circle cx="207.9" cy="171.7" r="2.3" fill="url(#blob2)"/>
<circle cx="211.7" cy="174.0" r="2.3" fill="url(#blob2)"/>
<circle cx="205.4" cy="178.5" r="2.3" fill="url(#blob2)"/>
<circle cx="209.3" cy="180.8" r="2.3" fill="url(#blob2)"/>
<circle cx="203.0" cy="185.4" r="2.3" fill="url(#blob2)"/>
<circle cx="206.8" cy="187.7" r="2.3" fill="url(#blob2)"/>
<circle cx="200.5" cy="192.3" r="2.3" fill="url(#blob2)"/>
<circle cx="204.4" cy="194.6" r="2.3" fill="url(#blob2)"/>
<circle cx="198.1" cy="199.2" r="2.3" fill="url(#blob2)"/>
<circle cx="201.9" cy="201.5" r="2.3" fill="url(#blob2)"/>
<circle cx="195.6" cy="206.0" r="2.3" fill="url(#blob2)"/>
<circle cx="199.5" cy="208.3" r="2.3" fill="url(#blob2)"/>
<circle cx="193.2" cy="212.9" r="2.3" fill="url(#blob2)"/>
<circle cx="197.0" cy="215.2" r="2.3" fill="url(#blob2)"/>
<circle cx="190.7" cy="219.8" r="2.3" fill="url(#blob2)"/>
<circle cx="194.6" cy="222.1" r="2.3" fill="url(#blob2)"/>
<circle cx="188.3" cy="226.6" r="2.3" fill="url(#blob2)"/>
<circle cx="192.1" cy="228.9" r="2.3" fill="url(#blob2)"/>
<circle cx="185.8" cy="233.5" r="2.3" fill="url(#blob2)"/>
<circle cx="189.7" cy="235.8" r="2.3" fill="url(#blob2)"/>
<circle cx="183.4" cy="240.4" r="2.3" fill="url(#blob2)"/>
<circle cx="187.2" cy="242.7" r="2.3" fill="url(#blob2)"/>
<circle cx="212.4" cy="178.5" r="2.3" fill="url(#blob2)"/>
<circle cx="216.3" cy="180.8" r="2.3" fill="url(#blob2)"/>
<circle cx="210.0" cy="185.4" r="2.3" fill="url(#blob2)"/>
<circle cx="213.9" cy="187.7" r="2.3" fill="url(#blob2)"/>
<circle cx="207.5" cy="192.3" r="2.3" fill="url(#blob2)"/>
<circle cx="211.4" cy="194.6" r="2.3" fill="url(#blob2)"/>
<circle cx="205.1" cy="199.2" r="2.3" fill="url(#blob2)"/>
<circle cx="209.0" cy="201.5" r="2.3" fill="url(#blob2)"/>
<circle cx="202.6" cy="206.0" r="2.3" fill="url(#blob2)"/>
<circle cx="206.5" cy="208.3" r="2.3" fill="url(#blob2)"/>
<circle cx="200.2" cy="212.9" r="2.3" fill="url(#blob2)"/>
<circle cx="204.1" cy="215.2" r="2.3" fill="url(#blob2)"/>
<circle cx="197.7" cy="219.8" r="2.3" fill="url(#blob2)"/>
<circle cx="201.6" cy="222.1" r="2.3" fill="url(#blob2)"/>
<circle cx="195.3" cy="226.6" r="2.3" fill="url(#blob2)"/>
<circle cx="199.2" cy="228.9" r="2.3" fill="url(#blob2)"/>
<circle cx="192.8" cy="233.5" r="2.3" fill="url(#blob2)"/>
<circle cx="196.7" cy="235.8" r="2.3" fill="url(#blob2)"/>
<circle cx="212.1" cy="199.2" r="2.3" fill="url(#blob2)"/>
<circle cx="216.0" cy="201.5" r="2.3" fill="url(#blob2)"/>
<circle cx="209.7" cy="206.0" r="2.3" fill="url(#blob2)"/>
<circle cx="213.5" cy="208.3" r="2.3" fill="url(#blob2)"/>
<circle cx="207.2" cy="212.9" r="2.3" fill="url(#blob2)"/>
<circle cx="211.1" cy="215.2" r="2.3" fill="url(#blob2)"/>
<circle cx="204.8" cy="219.8" r="2.3" fill="url(#blob2)"/>
<circle cx="208.6" cy="222.1" r="2.3" fill="url(#blob2)"/>
<circle cx="101.0" cy="162.5" r="2.8" fill="url(#blob)"/>
<circle cx="98.5" cy="169.4" r="2.8" fill="url(#blob)"/>
<circle cx="96.1" cy="176.3" r="2.8" fill="url(#blob)"/>
<circle cx="112.9" cy="148.8" r="2.8" fill="url(#blob)"/>
<circle cx="110.5" cy="155.7" r="2.8" fill="url(#blob)"/>
<circle cx="108.0" cy="162.5" r="2.8" fill="url(#blob)"/>
<circle cx="105.6" cy="169.4" r="2.8" fill="url(#blob)"/>
<circle cx="103.1" cy="176.3" r="2.8" fill="url(#blob)"/>
<circle cx="100.7" cy="183.1" r="2.8" fill="url(#blob)"/>
<circle cx="98.2" cy="190.0" r="2.8" fill="url(#blob)"/>
<circle cx="95.8" cy="196.9" r="2.8" fill="url(#blob)"/>
<circle cx="122.4" cy="141.9" r="2.8" fill="url(#blob)"/>
<circle cx="120.0" cy="148.8" r="2.8" fill="url(#blob)"/>
<circle cx="117.5" cy="155.7" r="2.8" fill="url(#blob)"/>
<circle cx="115.0" cy="162.5" r="2.8" fill="url(#blob)"/>
<circle cx="112.6" cy="169.4" r="2.8" fill="url(#blob)"/>
<circle cx="110.2" cy="176.3" r="2.8" fill="url(#blob)"/>
<circle cx="107.7" cy="183.1" r="2.8" fill="url(#blob)"/>
<circle cx="105.2" cy="190.0" r="2.8" fill="url(#blob)"/>
<circle cx="102.8" cy="196.9" r="2.8" fill="url(#blob)"/>
<circle cx="100.3" cy="203.7" r="2.8" fill="url(#blob)"/>
<circle cx="131.9" cy="135.0" r="2.8" fill="url(#blob)"/>
<circle cx="129.4" cy="141.9" r="2.8" fill="url(#blob)"/>
<circle cx="127.0" cy="148.8" r="2.8" fill="url(#blob)"/>
<circle cx="124.5" cy="155.7" r="2.8" fill="url(#blob)"/>
<circle cx="122.1" cy="162.5" r="2.8" fill="url(#blob)"/>
<circle cx="119.6" cy="169.4" r="2.8" fill="url(#blob)"/>
<circle cx="117.2" cy="176.3" r="2.8" fill="url(#blob)"/>
<circle cx="114.7" cy="183.1" r="2.8" fill="url(#blob)"/>
<circle cx="112.3" cy="190.0" r="2.8" fill="url(#blob)"/>
<circle cx="109.8" cy="196.9" r="2.8" fill="url(#blob)"/>
<circle cx="107.4" cy="203.7" r="2.8" fill="url(#blob)"/>
<circle cx="104.9" cy="210.6" r="2.8" fill="url(#blob)"/>
<circle cx="102.5" cy="217.5" r="2.8" fill="url(#blob)"/>
<circle cx="138.9" cy="135.0" r="2.8" fill="url(#blob)"/>
<circle cx="136.5" cy="141.9" r="2.8" fill="url(#blob)"/>
<circle cx="134.0" cy="148.8" r="2.8" fill="url(#blob)"/>
<circle cx="131.6" cy="155.7" r="2.8" fill="url(#blob)"/>
<circle cx="129.1" cy="162.5" r="2.8" fill="url(#blob)"/>
<circle cx="126.7" cy="169.4" r="2.8" fill="url(#blob)"/>
<circle cx="124.2" cy="176.3" r="2.8" fill="url(#blob)"/>
<circle cx="121.8" cy="183.1" r="2.8" fill="url(#blob)"/>
<circle cx="119.3" cy="190.0" r="2.8" fill="url(#blob)"/>
<circle cx="116.9" cy="196.9" r="2.8" fill="url(#blob)"/>
<circle cx="114.4" cy="203.7" r="2.8" fill="url(#blob)"/>
<circle cx="112.0" cy="210.6" r="2.8" fill="url(#blob)"/>
<circle cx="109.5" cy="217.5" r="2.8" fill="url(#blob)"/>
<circle cx="107.1" cy="224.4" r="2.8" fill="url(#blob)"/>
<circle cx="145.9" cy="135.0" r="2.8" fill="url(#blob)"/>
<circle cx="143.5" cy="141.9" r="2.8" fill="url(#blob)"/>
<circle cx="141.0" cy="148.8" r="2.8" fill="url(#blob)"/>
<circle cx="138.6" cy="155.7" r="2.8" fill="url(#blob)"/>
<circle cx="136.1" cy="162.5" r="2.8" fill="url(#blob)"/>
<circle cx="133.7" cy="169.4" r="2.8" fill="url(#blob)"/>
<circle cx="131.2" cy="176.3" r="2.8" fill="url(#blob)"/>
<circle cx="128.8" cy="183.1" r="2.8" fill="url(#blob)"/>
<circle cx="126.3" cy="190.0" r="2.8" fill="url(#blob)"/>
<circle cx="123.9" cy="196.9" r="2.8" fill="url(#blob)"/>
<circle cx="121.4" cy="203.7" r="2.8" fill="url(#blob)"/>
<circle cx="119.0" cy="210.6" r="2.8" fill="url(#blob)"/>
<circle cx="116.5" cy="217.5" r="2.8" fill="url(#blob)"/>
<circle cx="114.1" cy="224.4" r="2.8" fill="url(#blob)"/>
<circle cx="153.0" cy="135.0" r="2.8" fill="url(#blob)"/>
<circle cx="150.5" cy="141.9" r="2.8" fill="url(#blob)"/>
<circle cx="148.1" cy="148.8" r="2.8" fill="url(#blob)"/>
<circle cx="145.6" cy="155.7" r="2.8" fill="url(#blob)"/>
<circle cx="143.2" cy="162.5" r="2.8" fill="url(#blob)"/>
<circle cx="140.7" cy="169.4" r="2.8" fill="url(#blob)"/>
<circle cx="138.3" cy="176.3" r="2.8" fill="url(#blob)"/>
<circle cx="135.8" cy="183.1" r="2.8" fill="url(#blob)"/>
<circle cx="133.4" cy="190.0" r="2.8" fill="url(#blob)"/>
<circle cx="130.9" cy="196.9" r="2.8" fill="url(#blob)"/>
<circle cx="128.5" cy="203.7" r="2.8" fill="url(#blob)"/>
<circle cx="126.0" cy="210.6" r="2.8" fill="url(#blob)"/>
<circle cx="123.6" cy="217.5" r="2.8" fill="url(#blob)"/>
<circle cx="121.1" cy="224.4" r="2.8" fill="url(#blob)"/>
<circle cx="118.7" cy="231.2" r="2.8" fill="url(#blob)"/>
<circle cx="160.0" cy="135.0" r="2.8" fill="url(#blob)"/>
<circle cx="157.6" cy="141.9" r="2.8" fill="url(#blob)"/>
<circle cx="155.1" cy="148.8" r="2.8" fill="url(#blob)"/>
<circle cx="152.7" cy="155.7" r="2.8" fill="url(#blob)"/>
<circle cx="150.2" cy="162.5" r="2.8" fill="url(#blob)"/>
<circle cx="147.8" cy="169.4" r="2.8" fill="url(#blob)"/>
<circle cx="145.3" cy="176.3" r="2.8" fill="url(#blob)"/>
<circle cx="142.8" cy="183.1" r="2.8" fill="url(#blob)"/>
<circle cx="140.4" cy="190.0" r="2.8" fill="url(#blob)"/>
<circle cx="138.0" cy="196.9" r="2.8" fill="url(#blob)"/>
<circle cx="135.5" cy="203.7" r="2.8" fill="url(#blob)"/>
<circle cx="133.1" cy="210.6" r="2.8" fill="url(#blob)"/>
<circle cx="130.6" cy="217.5" r="2.8" fill="url(#blob)"/>
<circle cx="128.2" cy="224.4" r="2.8" fill="url(#blob)"/>
<circle cx="125.7" cy="231.2" r="2.8" fill="url(#blob)"/>
<circle cx="123.2" cy="238.1" r="2.8" fill="url(#blob)"/>
<circle cx="167.0" cy="135.0" r="2.8" fill="url(#blob)"/>
<circle cx="164.6" cy="141.9" r="2.8" fill="url(#blob)"/>
<circle cx="162.1" cy="148.8" r="2.8" fill="url(#blob)"/>
<circle cx="159.7" cy="155.7" r="2.8" fill="url(#blob)"/>
<circle cx="157.2" cy="162.5" r="2.8" fill="url(#blob)"/>
<circle cx="154.8" cy="169.4" r="2.8" fill="url(#blob)"/>
<circle cx="152.3" cy="176.3" r="2.8" fill="url(#blob)"/>
<circle cx="149.9" cy="183.1" r="2.8" fill="url(#blob)"/>
<circle cx="147.4" cy="190.0" r="2.8" fill="url(#blob)"/>
<circle cx="145.0" cy="196.9" r="2.8" fill="url(#blob)"/>
<circle cx="142.5" cy="203.7" r="2.8" fill="url(#blob)"/>
<circle cx="140.1" cy="210.6" r="2.8" fill="url(#blob)"/>
<circle cx="137.6" cy="217.5" r="2.8" fill="url(#blob)"/>
<circle cx="135.2" cy="224.4" r="2.8" fill="url(#blob)"/>
<circle cx="132.7" cy="231.2" r="2.8" fill="url(#blob)"/>
<circle cx="130.3" cy="238.1" r="2.8" fill="url(#blob)"/>
<circle cx="174.1" cy="135.0" r="2.8" fill="url(#blob)"/>
<circle cx="171.6" cy="141.9" r="2.8" fill="url(#blob)"/>
<circle cx="169.2" cy="148.8" r="2.8" fill="url(#blob)"/>
<circle cx="166.7" cy="155.7" r="2.8" fill="url(#blob)"/>
<circle cx="164.3" cy="162.5" r="2.8" fill="url(#blob)"/>
<circle cx="161.8" cy="169.4" r="2.8" fill="url(#blob)"/>
<circle cx="159.4" cy="176.3" r="2.8" fill="url(#blob)"/>
<circle cx="156.9" cy="183.1" r="2.8" fill="url(#blob)"/>
<circle cx="154.5" cy="190.0" r="2.8" fill="url(#blob)"/>
<circle cx="152.0" cy="196.9" r="2.8" fill="url(#blob)"/>
<circle cx="149.6" cy="203.7" r="2.8" fill="url(#blob)"/>
<circle cx="147.1" cy="210.6" r="2.8" fill="url(#blob)"/>
<circle cx="144.7" cy="217.5" r="2.8" fill="url(#blob)"/>
<circle cx="142.2" cy="224.4" r="2.8" fill="url(#blob)"/>
<circle cx="139.8" cy="231.2" r="2.8" fill="url(#blob)"/>
<circle cx="137.3" cy="238.1" r="2.8" fill="url(#blob)"/>
<circle cx="178.6" cy="141.9" r="2.8" fill="url(#blob)"/>
<circle cx="176.2" cy="148.8" r="2.8" fill="url(#blob)"/>
<circle cx="173.7" cy="155.7" r="2.8" fill="url(#blob)"/>
<circle cx="171.3" cy="162.5" r="2.8" fill="url(#blob)"/>
<circle cx="168.8" cy="169.4" r="2.8" fill="url(#blob)"/>
<circle cx="166.4" cy="176.3" r="2.8" fill="url(#blob)"/>
<circle cx="163.9" cy="183.1" r="2.8" fill="url(#blob)"/>
<circle cx="161.5" cy="190.0" r="2.8" fill="url(#blob)"/>
<circle cx="159.0" cy="196.9" r="2.8" fill="url(#blob)"/>
<circle cx="156.6" cy="203.7" r="2.8" fill="url(#blob)"/>
<circle cx="154.1" cy="210.6" r="2.8" fill="url(#blob)"/>
<circle cx="151.7" cy="217.5" r="2.8" fill="url(#blob)"/>
<circle cx="149.2" cy="224.4" r="2.8" fill="url(#blob)"/>
<circle cx="146.8" cy="231.2" r="2.8" fill="url(#blob)"/>
<circle cx="144.3" cy="238.1" r="2.8" fill="url(#blob)"/>
<circle cx="141.9" cy="245.0" r="2.8" fill="url(#blob)"/>
<circle cx="185.7" cy="141.9" r="2.8" fill="url(#blob)"/>
<circle cx="183.2" cy="148.8" r="2.8" fill="url(#blob)"/>
<circle cx="180.8" cy="155.7" r="2.8" fill="url(#blob)"/>
<circle cx="178.3" cy="162.5" r="2.8" fill="url(#blob)"/>
<circle cx="175.9" cy="169.4" r="2.8" fill="url(#blob)"/>
<circle cx="173.4" cy="176.3" r="2.8" fill="url(#blob)"/>
<circle cx="171.0" cy="183.1" r="2.8" fill="url(#blob)"/>
<circle cx="168.5" cy="190.0" r="2.8" fill="url(#blob)"/>
<circle cx="166.1" cy="196.9" r="2.8" fill="url(#blob)"/>
<circle cx="163.6" cy="203.7" r="2.8" fill="url(#blob)"/>
<circle cx="161.2" cy="210.6" r="2.8" fill="url(#blob)"/>
<circle cx="158.7" cy="217.5" r="2.8" fill="url(#blob)"/>
<circle cx="156.3" cy="224.4" r="2.8" fill="url(#blob)"/>
<circle cx="153.8" cy="231.2" r="2.8" fill="url(#blob)"/>
<circle cx="151.4" cy="238.1" r="2.8" fill="url(#blob)"/>
<circle cx="148.9" cy="245.0" r="2.8" fill="url(#blob)"/>
<circle cx="190.2" cy="148.8" r="2.8" fill="url(#blob)"/>
<circle cx="187.8" cy="155.7" r="2.8" fill="url(#blob)"/>
<circle cx="185.4" cy="162.5" r="2.8" fill="url(#blob)"/>
<circle cx="182.9" cy="169.4" r="2.8" fill="url(#blob)"/>
<circle cx="180.5" cy="176.3" r="2.8" fill="url(#blob)"/>
<circle cx="178.0" cy="183.1" r="2.8" fill="url(#blob)"/>
<circle cx="175.6" cy="190.0" r="2.8" fill="url(#blob)"/>
<circle cx="173.1" cy="196.9" r="2.8" fill="url(#blob)"/>
<circle cx="170.7" cy="203.7" r="2.8" fill="url(#blob)"/>
<circle cx="168.2" cy="210.6" r="2.8" fill="url(#blob)"/>
<circle cx="165.8" cy="217.5" r="2.8" fill="url(#blob)"/>
<circle cx="163.3" cy="224.4" r="2.8" fill="url(#blob)"/>
<circle cx="160.9" cy="231.2" r="2.8" fill="url(#blob)"/>
<circle cx="158.4" cy="238.1" r="2.8" fill="url(#blob)"/>
<circle cx="156.0" cy="245.0" r="2.8" fill="url(#blob)"/>
<circle cx="194.8" cy="155.7" r="2.8" fill="url(#blob)"/>
<circle cx="192.4" cy="162.5" r="2.8" fill="url(#blob)"/>
<circle cx="189.9" cy="169.4" r="2.8" fill="url(#blob)"/>
<circle cx="187.5" cy="176.3" r="2.8" fill="url(#blob)"/>
<circle cx="185.0" cy="183.1" r="2.8" fill="url(#blob)"/>
<circle cx="182.6" cy="190.0" r="2.8" fill="url(#blob)"/>
<circle cx="180.1" cy="196.9" r="2.8" fill="url(#blob)"/>
<circle cx="177.7" cy="203.7" r="2.8" fill="url(#blob)"/>
<circle cx="175.2" cy="210.6" r="2.8" fill="url(#blob)"/>
<circle cx="172.8" cy="217.5" r="2.8" fill="url(#blob)"/>
<circle cx="170.3" cy="224.4" r="2.8" fill="url(#blob)"/>
<circle cx="167.9" cy="231.2" r="2.8" fill="url(#blob)"/>
<circle cx="165.4" cy="238.1" r="2.8" fill="url(#blob)"/>
<circle cx="163.0" cy="245.0" r="2.8" fill="url(#blob)"/>
<circle cx="199.4" cy="162.5" r="2.8" fill="url(#blob)"/>
<circle cx="197.0" cy="169.4" r="2.8" fill="url(#blob)"/>
<circle cx="194.5" cy="176.3" r="2.8" fill="url(#blob)"/>
<circle cx="192.1" cy="183.1" r="2.8" fill="url(#blob)"/>
<circle cx="189.6" cy="190.0" r="2.8" fill="url(#blob)"/>
<circle cx="187.2" cy="196.9" r="2.8" fill="url(#blob)"/>
<circle cx="184.7" cy="203.7" r="2.8" fill="url(#blob)"/>
<circle cx="182.3" cy="210.6" r="2.8" fill="url(#blob)"/>
<circle cx="179.8" cy="217.5" r="2.8" fill="url(#blob)"/>
<circle cx="177.4" cy="224.4" r="2.8" fill="url(#blob)"/>
<circle cx="174.9" cy="231.2" r="2.8" fill="url(#blob)"/>
<circle cx="172.5" cy="238.1" r="2.8" fill="url(#blob)"/>
<circle cx="204.0" cy="169.4" r="2.8" fill="url(#blob)"/>
<circle cx="201.5" cy="176.3" r="2.8" fill="url(#blob)"/>
<circle cx="199.1" cy="183.1" r="2.8" fill="url(#blob)"/>
<circle cx="196.6" cy="190.0" r="2.8" fill="url(#blob)"/>
<circle cx="194.2" cy="196.9" r="2.8" fill="url(#blob)"/>
<circle cx="191.7" cy="203.7" r="2.8" fill="url(#blob)"/>
<circle cx="189.3" cy="210.6" r="2.8" fill="url(#blob)"/>
<circle cx="186.8" cy="217.5" r="2.8" fill="url(#blob)"/>
<circle cx="184.4" cy="224.4" r="2.8" fill="url(#blob)"/>
<circle cx="181.9" cy="231.2" r="2.8" fill="url(#blob)"/>
<circle cx="179.5" cy="238.1" r="2.8" fill="url(#blob)"/>
<circle cx="208.6" cy="176.3" r="2.8" fill="url(#blob)"/>
<circle cx="206.1" cy="183.1" r="2.8" fill="url(#blob)"/>
<circle cx="203.7" cy="190.0" r="2.8" fill="url(#blob)"/>
<circle cx="201.2" cy="196.9" r="2.8" fill="url(#blob)"/>
<circle cx="198.8" cy="203.7" r="2.8" fill="url(#blob)"/>
<circle cx="196.3" cy="210.6" r="2.8" fill="url(#blob)"/>
<circle cx="193.9" cy="217.5" r="2.8" fill="url(#blob)"/>
<circle cx="191.4" cy="224.4" r="2.8" fill="url(#blob)"/>
<circle cx="189.0" cy="231.2" r="2.8" fill="url(#blob)"/>
<circle cx="208.2" cy="196.9" r="2.8" fill="url(#blob)"/>
<circle cx="205.8" cy="203.7" r="2.8" fill="url(#blob)"/>
<circle cx="203.3" cy="210.6" r="2.8" fill="url(#blob)"/>
<circle cx="200.9" cy="217.5" r="2.8" fill="url(#blob)"/>
<rect x="107.0" y="161.5" width="2.1" height="2.1" rx="0.4" fill="#40ffe8"/>
<rect x="104.5" y="168.3" width="2.1" height="2.1" rx="0.4" fill="#a060ff"/>
<rect x="102.1" y="175.2" width="2.1" height="2.1" rx="0.4" fill="#40ffe8"/>
<rect x="99.6" y="182.1" width="2.1" height="2.1" rx="0.4" fill="#40ffe8"/>
<rect x="118.9" y="147.7" width="2.1" height="2.1" rx="0.4" fill="#ff9030"/>
<rect x="116.5" y="154.6" width="2.1" height="2.1" rx="0.4" fill="#ff4878"/>
<rect x="114.0" y="161.5" width="2.1" height="2.1" rx="0.4" fill="#3c6cff"/>
<rect x="111.5" y="168.3" width="2.1" height="2.1" rx="0.4" fill="#5cff3c"/>
<rect x="109.1" y="175.2" width="2.1" height="2.1" rx="0.4" fill="#ff9030"/>
<rect x="106.7" y="182.1" width="2.1" height="2.1" rx="0.4" fill="#40ffe8"/>
<rect x="104.2" y="188.9" width="2.1" height="2.1" rx="0.4" fill="#5cff3c"/>
<rect x="101.8" y="195.8" width="2.1" height="2.1" rx="0.4" fill="#5cff3c"/>
<rect x="128.4" y="140.9" width="2.1" height="2.1" rx="0.4" fill="#40ffe8"/>
<rect x="125.9" y="147.7" width="2.1" height="2.1" rx="0.4" fill="#ff48ff"/>
<rect x="123.5" y="154.6" width="2.1" height="2.1" rx="0.4" fill="#5cff3c"/>
<rect x="121.0" y="161.5" width="2.1" height="2.1" rx="0.4" fill="#5cff3c"/>
<rect x="118.6" y="168.3" width="2.1" height="2.1" rx="0.4" fill="#a060ff"/>
<rect x="116.1" y="175.2" width="2.1" height="2.1" rx="0.4" fill="#5cff3c"/>
<rect x="113.7" y="182.1" width="2.1" height="2.1" rx="0.4" fill="#ffff40"/>
<rect x="111.2" y="188.9" width="2.1" height="2.1" rx="0.4" fill="#40ffe8"/>
<rect x="108.8" y="195.8" width="2.1" height="2.1" rx="0.4" fill="#5cff3c"/>
<rect x="106.3" y="202.7" width="2.1" height="2.1" rx="0.4" fill="#5cff3c"/>
<rect x="135.4" y="140.9" width="2.1" height="2.1" rx="0.4" fill="#ff9030"/>
<rect x="133.0" y="147.7" width="2.1" height="2.1" rx="0.4" fill="#5cff3c"/>
<rect x="130.5" y="154.6" width="2.1" height="2.1" rx="0.4" fill="#5cff3c"/>
<rect x="128.1" y="161.5" width="2.1" height="2.1" rx="0.4" fill="#5cff3c"/>
<rect x="125.6" y="168.3" width="2.1" height="2.1" rx="0.4" fill="#3c6cff"/>
<rect x="123.2" y="175.2" width="2.1" height="2.1" rx="0.4" fill="#3c6cff"/>
<rect x="120.7" y="182.1" width="2.1" height="2.1" rx="0.4" fill="#5cff3c"/>
<rect x="118.3" y="188.9" width="2.1" height="2.1" rx="0.4" fill="#40ffe8"/>
<rect x="115.8" y="195.8" width="2.1" height="2.1" rx="0.4" fill="#ff48ff"/>
<rect x="113.4" y="202.7" width="2.1" height="2.1" rx="0.4" fill="#40ffe8"/>
<rect x="110.9" y="209.6" width="2.1" height="2.1" rx="0.4" fill="#ff4878"/>
<rect x="108.5" y="216.4" width="2.1" height="2.1" rx="0.4" fill="#3c6cff"/>
<rect x="142.4" y="140.9" width="2.1" height="2.1" rx="0.4" fill="#ff9030"/>
<rect x="140.0" y="147.7" width="2.1" height="2.1" rx="0.4" fill="#3c6cff"/>
<rect x="137.5" y="154.6" width="2.1" height="2.1" rx="0.4" fill="#ff48ff"/>
<rect x="135.1" y="161.5" width="2.1" height="2.1" rx="0.4" fill="#40ffe8"/>
<rect x="132.6" y="168.3" width="2.1" height="2.1" rx="0.4" fill="#5cff3c"/>
<rect x="130.2" y="175.2" width="2.1" height="2.1" rx="0.4" fill="#5cff3c"/>
<rect x="127.7" y="182.1" width="2.1" height="2.1" rx="0.4" fill="#40ffe8"/>
<rect x="125.3" y="188.9" width="2.1" height="2.1" rx="0.4" fill="#3c6cff"/>
<rect x="122.8" y="195.8" width="2.1" height="2.1" rx="0.4" fill="#ffff40"/>
<rect x="120.4" y="202.7" width="2.1" height="2.1" rx="0.4" fill="#a060ff"/>
<rect x="117.9" y="209.6" width="2.1" height="2.1" rx="0.4" fill="#5cff3c"/>
<rect x="115.5" y="216.4" width="2.1" height="2.1" rx="0.4" fill="#3c6cff"/>
<rect x="149.5" y="140.9" width="2.1" height="2.1" rx="0.4" fill="#ff48ff"/>
<rect x="147.0" y="147.7" width="2.1" height="2.1" rx="0.4" fill="#3c6cff"/>
<rect x="144.6" y="154.6" width="2.1" height="2.1" rx="0.4" fill="#ff9030"/>
<rect x="142.1" y="161.5" width="2.1" height="2.1" rx="0.4" fill="#ff48ff"/>
<rect x="139.7" y="168.3" width="2.1" height="2.1" rx="0.4" fill="#5cff3c"/>
<rect x="137.2" y="175.2" width="2.1" height="2.1" rx="0.4" fill="#5cff3c"/>
<rect x="134.8" y="182.1" width="2.1" height="2.1" rx="0.4" fill="#ff4878"/>
<rect x="132.3" y="188.9" width="2.1" height="2.1" rx="0.4" fill="#5cff3c"/>
<rect x="129.9" y="195.8" width="2.1" height="2.1" rx="0.4" fill="#ffff40"/>
<rect x="127.4" y="202.7" width="2.1" height="2.1" rx="0.4" fill="#5cff3c"/>
<rect x="125.0" y="209.6" width="2.1" height="2.1" rx="0.4" fill="#ff48ff"/>
<rect x="122.5" y="216.4" width="2.1" height="2.1" rx="0.4" fill="#ffff40"/>
<rect x="120.1" y="223.3" width="2.1" height="2.1" rx="0.4" fill="#5cff3c"/>
<rect x="156.5" y="140.9" width="2.1" height="2.1" rx="0.4" fill="#5cff3c"/>
<rect x="154.0" y="147.7" width="2.1" height="2.1" rx="0.4" fill="#5cff3c"/>
<rect x="151.6" y="154.6" width="2.1" height="2.1" rx="0.4" fill="#3c6cff"/>
<rect x="149.2" y="161.5" width="2.1" height="2.1" rx="0.4" fill="#3c6cff"/>
<rect x="146.7" y="168.3" width="2.1" height="2.1" rx="0.4" fill="#5cff3c"/>
<rect x="144.2" y="175.2" width="2.1" height="2.1" rx="0.4" fill="#40ffe8"/>
<rect x="141.8" y="182.1" width="2.1" height="2.1" rx="0.4" fill="#ffff40"/>
<rect x="139.3" y="188.9" width="2.1" height="2.1" rx="0.4" fill="#ffff40"/>
<rect x="136.9" y="195.8" width="2.1" height="2.1" rx="0.4" fill="#ffff40"/>
<rect x="134.4" y="202.7" width="2.1" height="2.1" rx="0.4" fill="#5cff3c"/>
<rect x="132.0" y="209.6" width="2.1" height="2.1" rx="0.4" fill="#ff4878"/>
<rect x="129.5" y="216.4" width="2.1" height="2.1" rx="0.4" fill="#3c6cff"/>
<rect x="127.1" y="223.3" width="2.1" height="2.1" rx="0.4" fill="#3c6cff"/>
<rect x="124.7" y="230.2" width="2.1" height="2.1" rx="0.4" fill="#ff48ff"/>
<rect x="163.5" y="140.9" width="2.1" height="2.1" rx="0.4" fill="#5cff3c"/>
<rect x="161.1" y="147.7" width="2.1" height="2.1" rx="0.4" fill="#ff48ff"/>
<rect x="158.6" y="154.6" width="2.1" height="2.1" rx="0.4" fill="#ff48ff"/>
<rect x="156.2" y="161.5" width="2.1" height="2.1" rx="0.4" fill="#5cff3c"/>
<rect x="153.7" y="168.3" width="2.1" height="2.1" rx="0.4" fill="#ffff40"/>
<rect x="151.3" y="175.2" width="2.1" height="2.1" rx="0.4" fill="#5cff3c"/>
<rect x="148.8" y="182.1" width="2.1" height="2.1" rx="0.4" fill="#5cff3c"/>
<rect x="146.4" y="188.9" width="2.1" height="2.1" rx="0.4" fill="#3c6cff"/>
<rect x="143.9" y="195.8" width="2.1" height="2.1" rx="0.4" fill="#5cff3c"/>
<rect x="141.5" y="202.7" width="2.1" height="2.1" rx="0.4" fill="#5cff3c"/>
<rect x="139.0" y="209.6" width="2.1" height="2.1" rx="0.4" fill="#5cff3c"/>
<rect x="136.6" y="216.4" width="2.1" height="2.1" rx="0.4" fill="#40ffe8"/>
<rect x="134.1" y="223.3" width="2.1" height="2.1" rx="0.4" fill="#40ffe8"/>
<rect x="131.7" y="230.2" width="2.1" height="2.1" rx="0.4" fill="#5cff3c"/>
<rect x="170.6" y="140.9" width="2.1" height="2.1" rx="0.4" fill="#a060ff"/>
<rect x="168.1" y="147.7" width="2.1" height="2.1" rx="0.4" fill="#3c6cff"/>
<rect x="165.7" y="154.6" width="2.1" height="2.1" rx="0.4" fill="#40ffe8"/>
<rect x="163.2" y="161.5" width="2.1" height="2.1" rx="0.4" fill="#ff9030"/>
<rect x="160.8" y="168.3" width="2.1" height="2.1" rx="0.4" fill="#3c6cff"/>
<rect x="158.3" y="175.2" width="2.1" height="2.1" rx="0.4" fill="#5cff3c"/>
<rect x="155.9" y="182.1" width="2.1" height="2.1" rx="0.4" fill="#ffff40"/>
<rect x="153.4" y="188.9" width="2.1" height="2.1" rx="0.4" fill="#ffff40"/>
<rect x="151.0" y="195.8" width="2.1" height="2.1" rx="0.4" fill="#5cff3c"/>
<rect x="148.5" y="202.7" width="2.1" height="2.1" rx="0.4" fill="#ffff40"/>
<rect x="146.1" y="209.6" width="2.1" height="2.1" rx="0.4" fill="#ffff40"/>
<rect x="143.6" y="216.4" width="2.1" height="2.1" rx="0.4" fill="#3c6cff"/>
<rect x="141.2" y="223.3" width="2.1" height="2.1" rx="0.4" fill="#5cff3c"/>
<rect x="138.7" y="230.2" width="2.1" height="2.1" rx="0.4" fill="#3c6cff"/>
</g>
<circle cx="151.8" cy="188.2" r="52.2" fill="none" stroke="#1c2a4c" stroke-width="1.2" stroke-dasharray="4 2.6" opacity="0.9"/>
<path d="M178.7 208.9 L196.80 208.90 A18.1 18.1 0 0 1 196.65 211.26 Z" fill="#ff0c00"/>
<path d="M178.7 208.9 L196.70 210.79 A18.1 18.1 0 0 1 196.30 213.13 Z" fill="#ff2600"/>
<path d="M178.7 208.9 L196.40 212.66 A18.1 18.1 0 0 1 195.76 214.94 Z" fill="#ff3f00"/>
<path d="M178.7 208.9 L195.91 214.49 A18.1 18.1 0 0 1 195.04 216.69 Z" fill="#ff5900"/>
<path d="M178.7 208.9 L195.24 216.26 A18.1 18.1 0 0 1 194.13 218.36 Z" fill="#ff7200"/>
<path d="M178.7 208.9 L194.38 217.95 A18.1 18.1 0 0 1 193.06 219.92 Z" fill="#ff8c00"/>
<path d="M178.7 208.9 L193.34 219.54 A18.1 18.1 0 0 1 191.83 221.36 Z" fill="#ffa500"/>
<path d="M178.7 208.9 L192.15 221.01 A18.1 18.1 0 0 1 190.46 222.66 Z" fill="#ffbf00"/>
<path d="M178.7 208.9 L190.81 222.35 A18.1 18.1 0 0 1 188.95 223.82 Z" fill="#ffd800"/>
<path d="M178.7 208.9 L189.34 223.54 A18.1 18.1 0 0 1 187.34 224.81 Z" fill="#fff200"/>
<path d="M178.7 208.9 L187.75 224.58 A18.1 18.1 0 0 1 185.63 225.62 Z" fill="#f2ff00"/>
<path d="M178.7 208.9 L186.06 225.44 A18.1 18.1 0 0 1 183.84 226.25 Z" fill="#d8ff00"/>
<path d="M178.7 208.9 L184.29 226.11 A18.1 18.1 0 0 1 182.00 226.70 Z" fill="#bfff00"/>
<path d="M178.7 208.9 L182.46 226.60 A18.1 18.1 0 0 1 180.12 226.94 Z" fill="#a5ff00"/>
<path d="M178.7 208.9 L180.59 226.90 A18.1 18.1 0 0 1 178.23 226.99 Z" fill="#8cff00"/>
<path d="M178.7 208.9 L178.70 227.00 A18.1 18.1 0 0 1 176.34 226.85 Z" fill="#72ff00"/>
<path d="M178.7 208.9 L176.81 226.90 A18.1 18.1 0 0 1 174.47 226.50 Z" fill="#59ff00"/>
<path d="M178.7 208.9 L174.94 226.60 A18.1 18.1 0 0 1 172.66 225.96 Z" fill="#3fff00"/>
<path d="M178.7 208.9 L173.11 226.11 A18.1 18.1 0 0 1 170.91 225.24 Z" fill="#26ff00"/>
<path d="M178.7 208.9 L171.34 225.44 A18.1 18.1 0 0 1 169.24 224.33 Z" fill="#0cff00"/>
<path d="M178.7 208.9 L169.65 224.58 A18.1 18.1 0 0 1 167.68 223.26 Z" fill="#00ff0c"/>
<path d="M178.7 208.9 L168.06 223.54 A18.1 18.1 0 0 1 166.24 222.03 Z" fill="#00ff26"/>
<path d="M178.7 208.9 L166.59 222.35 A18.1 18.1 0 0 1 164.94 220.66 Z" fill="#00ff3f"/>
<path d="M178.7 208.9 L165.25 221.01 A18.1 18.1 0 0 1 163.78 219.15 Z" fill="#00ff59"/>
<path d="M178.7 208.9 L164.06 219.54 A18.1 18.1 0 0 1 162.79 217.54 Z" fill="#00ff72"/>
<path d="M178.7 208.9 L163.02 217.95 A18.1 18.1 0 0 1 161.98 215.83 Z" fill="#00ff8c"/>
<path d="M178.7 208.9 L162.16 216.26 A18.1 18.1 0 0 1 161.35 214.04 Z" fill="#00ffa5"/>
<path d="M178.7 208.9 L161.49 214.49 A18.1 18.1 0 0 1 160.90 212.20 Z" fill="#00ffbf"/>
<path d="M178.7 208.9 L161.00 212.66 A18.1 18.1 0 0 1 160.66 210.32 Z" fill="#00ffd8"/>
<path d="M178.7 208.9 L160.70 210.79 A18.1 18.1 0 0 1 160.61 208.43 Z" fill="#00fff2"/>
<path d="M178.7 208.9 L160.60 208.90 A18.1 18.1 0 0 1 160.75 206.54 Z" fill="#00f2ff"/>
<path d="M178.7 208.9 L160.70 207.01 A18.1 18.1 0 0 1 161.10 204.67 Z" fill="#00d8ff"/>
<path d="M178.7 208.9 L161.00 205.14 A18.1 18.1 0 0 1 161.64 202.86 Z" fill="#00bfff"/>
<path d="M178.7 208.9 L161.49 203.31 A18.1 18.1 0 0 1 162.36 201.11 Z" fill="#00a5ff"/>
<path d="M178.7 208.9 L162.16 201.54 A18.1 18.1 0 0 1 163.27 199.44 Z" fill="#008cff"/>
<path d="M178.7 208.9 L163.02 199.85 A18.1 18.1 0 0 1 164.34 197.88 Z" fill="#0072ff"/>
<path d="M178.7 208.9 L164.06 198.26 A18.1 18.1 0 0 1 165.57 196.44 Z" fill="#0059ff"/>
<path d="M178.7 208.9 L165.25 196.79 A18.1 18.1 0 0 1 166.94 195.14 Z" fill="#003fff"/>
<path d="M178.7 208.9 L166.59 195.45 A18.1 18.1 0 0 1 168.45 193.98 Z" fill="#0026ff"/>
<path d="M178.7 208.9 L168.06 194.26 A18.1 18.1 0 0 1 170.06 192.99 Z" fill="#000cff"/>
<path d="M178.7 208.9 L169.65 193.22 A18.1 18.1 0 0 1 171.77 192.18 Z" fill="#0c00ff"/>
<path d="M178.7 208.9 L171.34 192.36 A18.1 18.1 0 0 1 173.56 191.55 Z" fill="#2600ff"/>
<path d="M178.7 208.9 L173.11 191.69 A18.1 18.1 0 0 1 175.40 191.10 Z" fill="#3f00ff"/>
<path d="M178.7 208.9 L174.94 191.20 A18.1 18.1 0 0 1 177.28 190.86 Z" fill="#5900ff"/>
<path d="M178.7 208.9 L176.81 190.90 A18.1 18.1 0 0 1 179.17 190.81 Z" fill="#7200ff"/>
<path d="M178.7 208.9 L178.70 190.80 A18.1 18.1 0 0 1 181.06 190.95 Z" fill="#8c00ff"/>
<path d="M178.7 208.9 L180.59 190.90 A18.1 18.1 0 0 1 182.93 191.30 Z" fill="#a500ff"/>
<path d="M178.7 208.9 L182.46 191.20 A18.1 18.1 0 0 1 184.74 191.84 Z" fill="#bf00ff"/>
<path d="M178.7 208.9 L184.29 191.69 A18.1 18.1 0 0 1 186.49 192.56 Z" fill="#d800ff"/>
<path d="M178.7 208.9 L186.06 192.36 A18.1 18.1 0 0 1 188.16 193.47 Z" fill="#f200ff"/>
<path d="M178.7 208.9 L187.75 193.22 A18.1 18.1 0 0 1 189.72 194.54 Z" fill="#ff00f2"/>
<path d="M178.7 208.9 L189.34 194.26 A18.1 18.1 0 0 1 191.16 195.77 Z" fill="#ff00d8"/>
<path d="M178.7 208.9 L190.81 195.45 A18.1 18.1 0 0 1 192.46 197.14 Z" fill="#ff00bf"/>
<path d="M178.7 208.9 L192.15 196.79 A18.1 18.1 0 0 1 193.62 198.65 Z" fill="#ff00a5"/>
<path d="M178.7 208.9 L193.34 198.26 A18.1 18.1 0 0 1 194.61 200.26 Z" fill="#ff008c"/>
<path d="M178.7 208.9 L194.38 199.85 A18.1 18.1 0 0 1 195.42 201.97 Z" fill="#ff0072"/>
<path d="M178.7 208.9 L195.24 201.54 A18.1 18.1 0 0 1 196.05 203.76 Z" fill="#ff0059"/>
<path d="M178.7 208.9 L195.91 203.31 A18.1 18.1 0 0 1 196.50 205.60 Z" fill="#ff003f"/>
<path d="M178.7 208.9 L196.40 205.14 A18.1 18.1 0 0 1 196.74 207.48 Z" fill="#ff0026"/>
<path d="M178.7 208.9 L196.70 207.01 A18.1 18.1 0 0 1 196.79 209.37 Z" fill="#ff000c"/>
<radialGradient id="wheelw" cx="0.5" cy="0.5" r="0.5"><stop offset="0" stop-color="#fff" stop-opacity="0.35"/><stop offset="0.4" stop-color="#fff" stop-opacity="0.05"/><stop offset="1" stop-color="#fff" stop-opacity="0"/></radialGradient>
<circle cx="178.7" cy="208.9" r="18.1" fill="url(#wheelw)"/>
<g stroke="#000" stroke-width="0.9" fill="#000">
<path d="M183.2 208.9 L191.7 208.9" fill="none"/>
<path d="M194.5 208.9 L189.9 211.0 L189.9 206.8 Z" stroke="none"/>
<path d="M174.2 208.9 L165.7 208.9" fill="none"/>
<path d="M162.9 208.9 L167.5 206.8 L167.5 211.0 Z" stroke="none"/>
<path d="M178.7 213.4 L178.7 221.9" fill="none"/>
<path d="M178.7 224.7 L176.6 220.1 L180.8 220.1 Z" stroke="none"/>
<path d="M178.7 204.4 L178.7 195.9" fill="none"/>
<path d="M178.7 193.1 L180.8 197.7 L176.6 197.7 Z" stroke="none"/>
</g>
<text x="179.0" y="211.20000000000002" font-size="7" font-weight="bold" text-anchor="middle" fill="#ececec" stroke="#333" stroke-width="0.4" paint-order="stroke">2π</text>
<circle cx="314.1" cy="185.2" r="52.2" fill="#fff" stroke="#1c2a4c" stroke-width="1.6" stroke-dasharray="5.6 3.2"/>
<g transform="translate(260,150) scale(0.13236)">
<g fill="none" stroke="#a6b6cf" stroke-width="3.6"><path d="M290 130 H700"/><path d="M160 355 H510"/><path d="M243 185 L140 298"/><path d="M448 185 L352 298"/><path d="M658 185 L558 298"/></g>
<polygon points="225,88 325,165 255,285 160,208" fill="#a98ddb"/>
<polygon points="225,88 255,193 160,208" fill="#b79fe4"/>
<polygon points="325,165 255,285 255,193" fill="#9678cc"/>
<polygon points="160,208 255,285 255,193" fill="#a083d4"/>
<circle cx="225" cy="88" r="5.2" fill="#4fbbe8"/>
<circle cx="325" cy="165" r="5.2" fill="#4fbbe8"/>
<circle cx="255" cy="285" r="5.2" fill="#4fbbe8"/>
<circle cx="160" cy="208" r="5.2" fill="#4fbbe8"/>
<circle cx="243" cy="185" r="33" fill="url(#g_yellow)"/>
<polygon points="432,88 532,165 462,290 370,208" fill="#a98ddb"/>
<polygon points="432,88 460,193 370,208" fill="#b79fe4"/>
<polygon points="532,165 462,290 460,193" fill="#9678cc"/>
<polygon points="370,208 462,290 460,193" fill="#a083d4"/>
<circle cx="432" cy="88" r="5.2" fill="#4fbbe8"/>
<circle cx="532" cy="165" r="5.2" fill="#4fbbe8"/>
<circle cx="462" cy="290" r="5.2" fill="#4fbbe8"/>
<circle cx="370" cy="208" r="5.2" fill="#4fbbe8"/>
<circle cx="448" cy="185" r="25" fill="url(#g_violet)"/>
<polygon points="640,88 742,168 672,290 578,208" fill="#a98ddb"/>
<polygon points="640,88 670,193 578,208" fill="#b79fe4"/>
<polygon points="742,168 672,290 670,193" fill="#9678cc"/>
<polygon points="578,208 672,290 670,193" fill="#a083d4"/>
<circle cx="640" cy="88" r="5.2" fill="#4fbbe8"/>
<circle cx="742" cy="168" r="5.2" fill="#4fbbe8"/>
<circle cx="672" cy="290" r="5.2" fill="#4fbbe8"/>
<circle cx="578" cy="208" r="5.2" fill="#4fbbe8"/>
<circle cx="658" cy="185" r="33" fill="url(#g_yellow)"/>
<polygon points="128,200 222,280 158,400 60,320" fill="#a98ddb"/>
<polygon points="128,200 152,306 60,320" fill="#b79fe4"/>
<polygon points="222,280 158,400 152,306" fill="#9678cc"/>
<polygon points="60,320 158,400 152,306" fill="#a083d4"/>
<circle cx="128" cy="200" r="5.2" fill="#4fbbe8"/>
<circle cx="222" cy="280" r="5.2" fill="#4fbbe8"/>
<circle cx="158" cy="400" r="5.2" fill="#4fbbe8"/>
<circle cx="60" cy="320" r="5.2" fill="#4fbbe8"/>
<circle cx="140" cy="298" r="25" fill="url(#g_violet)"/>
<polygon points="335,200 432,280 365,400 268,320" fill="#a98ddb"/>
<polygon points="335,200 364,306 268,320" fill="#b79fe4"/>
<polygon points="432,280 365,400 364,306" fill="#9678cc"/>
<polygon points="268,320 365,400 364,306" fill="#a083d4"/>
<circle cx="335" cy="200" r="5.2" fill="#4fbbe8"/>
<circle cx="432" cy="280" r="5.2" fill="#4fbbe8"/>
<circle cx="365" cy="400" r="5.2" fill="#4fbbe8"/>
<circle cx="268" cy="320" r="5.2" fill="#4fbbe8"/>
<circle cx="352" cy="298" r="33" fill="url(#g_yellow)"/>
<polygon points="543,200 640,280 572,400 478,320" fill="#a98ddb"/>
<polygon points="543,200 570,306 478,320" fill="#b79fe4"/>
<polygon points="640,280 572,400 570,306" fill="#9678cc"/>
<polygon points="478,320 572,400 570,306" fill="#a083d4"/>
<circle cx="543" cy="200" r="5.2" fill="#4fbbe8"/>
<circle cx="640" cy="280" r="5.2" fill="#4fbbe8"/>
<circle cx="572" cy="400" r="5.2" fill="#4fbbe8"/>
<circle cx="478" cy="320" r="5.2" fill="#4fbbe8"/>
<circle cx="558" cy="298" r="25" fill="url(#g_violet)"/>
<circle cx="350" cy="178" r="5" fill="#5bc0e8"/>
<circle cx="560" cy="178" r="5" fill="#5bc0e8"/>
<circle cx="238" cy="312" r="5" fill="#5bc0e8"/>
<circle cx="445" cy="312" r="5" fill="#5bc0e8"/>
</g>
<g clip-path="url(#cDis)"><rect x="5" y="243" width="115" height="112" fill="#7e7e7e"/><rect x="-30" y="200" width="200" height="200" fill="url(#pDis)"/></g>
<circle cx="61.7" cy="299" r="52.2" fill="none" stroke="#1c2a4c" stroke-width="1.3" stroke-dasharray="4.4 2.6"/>
<g transform="translate(0,240) scale(0.23408)" stroke="#f4f000" stroke-width="5.2" fill="none" stroke-linecap="butt">
<path d="M162 95 L203 135 M185 113 L215 85"/>
<path d="M245 133 L290 172 M267 153 L237 185"/>
<path d="M65 188 L105 228 M88 205 L118 178"/>
<path d="M380 250 L420 287 M400 268 L432 237"/>
<path d="M193 285 L235 325 M215 303 L245 273"/>
<path d="M285 300 L325 340 M305 320 L337 290"/>
<path d="M353 353 L395 390 M373 372 L343 405"/>
</g>
<filter id="bl3" x="-30%" y="-30%" width="160%" height="160%"><feGaussianBlur stdDeviation="2.6"/></filter>
<filter id="bl2" x="-30%" y="-30%" width="160%" height="160%"><feGaussianBlur stdDeviation="3.5"/></filter>
<g clip-path="url(#cStr)"><rect x="96" y="376" width="106" height="106" fill="#7a600b"/>
<g filter="url(#bl2)" opacity="0.42" stroke="#4c8410" fill="none" stroke-linecap="round">
<path d="M108.4 408.6 L142.0 480.3" stroke-width="9"/>
<path d="M101.7 431.0 L121.9 471.3" stroke-width="8"/>
<path d="M124.1 401.9 L157.7 473.6" stroke-width="6"/>
<path d="M168.9 388.4 L195.8 442.2" stroke-width="7"/>
<path d="M151.0 442.2 L168.9 480.3" stroke-width="6"/>
</g>
<g filter="url(#bl3)"><path d="M139.8 377.2 L184.6 466.8" stroke="#e62408" stroke-width="5.6" opacity="0.75" fill="none"/></g>
<g filter="url(#bl3)"><path d="M140.9 379.5 L162.2 422.0" stroke="#ff1c06" stroke-width="3" opacity="0.7" fill="none"/></g>
<rect x="96.5" y="412" width="3" height="22" fill="#e81c0c" opacity="0.9"/>
<rect x="198.2" y="412" width="3.2" height="30" fill="#f4f4f4"/><rect x="198.6" y="413" width="1.3" height="20" fill="#e81010"/><rect x="198.8" y="433" width="1.3" height="9" fill="#10b828"/>
</g>
<circle cx="149" cy="428.9" r="51.5" fill="none" stroke="#1c2a4c" stroke-width="1.2" stroke-dasharray="4.4 2.6"/>
<filter id="bl05" x="-5%" y="-5%" width="110%" height="110%"><feGaussianBlur stdDeviation="0.45"/></filter>
<g clip-path="url(#cTw)">
<g filter="url(#bl05)"><g transform="translate(314.2,432.4) rotate(43)">
<rect x="-60" y="-56.00" width="120" height="8.15" fill="#909090"/>
<rect x="-60" y="-48.00" width="120" height="2.15" fill="#555"/>
<rect x="-60" y="-46.00" width="120" height="3.15" fill="#b8b8b8"/>
<rect x="-60" y="-43.00" width="120" height="2.15" fill="#505050"/>
<rect x="-60" y="-41.00" width="120" height="3.65" fill="#bcbcbc"/>
<rect x="-60" y="-37.50" width="120" height="2.65" fill="#585858"/>
<rect x="-60" y="-35.00" width="120" height="3.15" fill="#b4b4b4"/>
<rect x="-60" y="-32.00" width="120" height="2.65" fill="#555"/>
<rect x="-60" y="-29.50" width="120" height="3.65" fill="#bcbcbc"/>
<rect x="-60" y="-26.00" width="120" height="2.65" fill="#505050"/>
<rect x="-60" y="-23.50" width="120" height="3.15" fill="#b8b8b8"/>
<rect x="-60" y="-20.50" width="120" height="2.35" fill="#484848"/>
<rect x="-60" y="-18.30" width="120" height="3.15" fill="#b4b4b4"/>
<rect x="-60" y="-15.30" width="120" height="3.15" fill="#555"/>
<rect x="-60" y="-12.30" width="120" height="6.25" fill="#8c8c8c"/>
<rect x="-60" y="-6.20" width="120" height="2.25" fill="#2e2e2e"/>
<rect x="-60" y="-4.10" width="120" height="6.25" fill="#828282"/>
<rect x="-60" y="2.00" width="120" height="6.25" fill="#8e8e8e"/>
<rect x="-60" y="8.10" width="120" height="0.95" fill="#b4b4b4"/>
<rect x="-60" y="8.90" width="120" height="7.55" fill="#7c7c7c"/>
<rect x="-60" y="16.30" width="120" height="2.25" fill="#222"/>
<rect x="-60" y="18.40" width="120" height="4.05" fill="#a0a0a0"/>
<rect x="-60" y="22.30" width="120" height="2.35" fill="#2a2a2a"/>
<rect x="-60" y="24.50" width="120" height="4.05" fill="#8a8a8a"/>
<rect x="-60" y="28.40" width="120" height="1.85" fill="#333"/>
<rect x="-60" y="30.10" width="120" height="4.45" fill="#9c9c9c"/>
<rect x="-60" y="34.40" width="120" height="2.25" fill="#333"/>
<rect x="-60" y="36.50" width="120" height="4.65" fill="#888"/>
<rect x="-60" y="41.00" width="120" height="2.15" fill="#3a3a3a"/>
<rect x="-60" y="43.00" width="120" height="5.15" fill="#989898"/>
<rect x="-60" y="48.00" width="120" height="8.15" fill="#444"/>
</g>
<polygon points="353.1,390.4 351.3,401.6 349.7,410.6 345.2,425.2 342.3,442.0 328.4,456.5 315.0,466.6 302.7,481.2 302.7,493.5 375.5,493.5 375.5,386.0" fill="#898989"/>
<polygon points="342.3,442.0 328.4,456.5 315.0,466.6 302.7,481.2 310.5,482.3 332.9,465.5 347.5,447.6" fill="#a2a2a2" opacity="0.75"/>
<polyline points="352.6,392.7 350.4,399.4 351.7,405.0 348.6,410.6 348.2,417.3 345.0,422.9 345.9,429.6 342.8,435.7 342.3,442.0" fill="none" stroke="#2c2c2c" stroke-width="1.6" stroke-dasharray="2.2 1.3 1 1.6" stroke-linejoin="round"/>
<polyline points="351.0,392.4 348.8,399.1 350.1,404.7 347.0,410.3 346.6,417.0 343.4,422.6 344.3,429.3 341.2,435.4 340.7,441.7" fill="none" stroke="#d0d0d0" stroke-width="1.1" stroke-dasharray="1.4 2.4" stroke-linejoin="round"/>
<g stroke="#9c9c9c" stroke-width="0.6" opacity="0.7">
<path d="M332.9 484.5 L364.3 444.2"/>
<path d="M336.1 484.1 L366.5 442.9"/>
<path d="M339.2 483.6 L368.8 441.5"/>
<path d="M342.3 483.2 L371.0 440.2"/>
<path d="M345.5 482.7 L373.2 438.8"/>
<path d="M348.6 482.3 L375.5 437.5"/>
<path d="M351.7 481.8 L377.7 436.1"/>
<path d="M354.9 481.4 L380.0 434.8"/>
<path d="M358.0 480.9 L382.2 433.5"/>
<path d="M361.2 480.5 L384.4 432.1"/>
</g>
<rect x="303.8" y="452.0" width="1.2" height="9.0" fill="#2a2a2a" transform="rotate(-45 303.8 452.0)"/>
<rect x="307.4" y="452.7" width="1.2" height="8.5" fill="#2a2a2a" transform="rotate(-45 307.4 452.7)"/>
<rect x="311.0" y="453.4" width="1.2" height="8.0" fill="#2a2a2a" transform="rotate(-45 311.0 453.4)"/>
<rect x="314.6" y="454.1" width="1.2" height="7.5" fill="#2a2a2a" transform="rotate(-45 314.6 454.1)"/>
<rect x="318.1" y="454.7" width="1.2" height="7.0" fill="#2a2a2a" transform="rotate(-45 318.1 454.7)"/>
<rect x="321.7" y="455.4" width="1.2" height="6.5" fill="#2a2a2a" transform="rotate(-45 321.7 455.4)"/>
</g></g>
<circle cx="314.2" cy="432.4" r="52.2" fill="none" stroke="#1c2a4c" stroke-width="1.3" stroke-dasharray="4.6 2.8"/>

<rect x="506" y="154.5" width="116.9" height="80.2" rx="11.5" ry="11.5" fill="#fff" stroke="#1b2a52" stroke-width="1.6" stroke-dasharray="6.2 3.2"/>
<g transform="translate(490,140) scale(0.25465)">
<rect x="125" y="60" width="392" height="258" fill="#fff" stroke="#c8c8c8" stroke-width="2"/>
<path d="M125 60 V318 H517" fill="none" stroke="#444" stroke-width="2.5"/>
<path d="M125 78 h6" stroke="#444" stroke-width="2"/>
<path d="M125 122 h6" stroke="#444" stroke-width="2"/>
<path d="M125 166 h6" stroke="#444" stroke-width="2"/>
<path d="M125 210 h6" stroke="#444" stroke-width="2"/>
<path d="M125 255 h6" stroke="#444" stroke-width="2"/>
<path d="M125 298 h6" stroke="#444" stroke-width="2"/>
<path d="M232 318 v-6" stroke="#444" stroke-width="2"/>
<path d="M392 318 v-6" stroke="#444" stroke-width="2"/>
<circle cx="145" cy="314.9" r="6" fill="#8fa0e8" stroke="#5060c8" stroke-width="1.5" opacity="0.9"/>
<circle cx="152" cy="310.5" r="6" fill="#8fa0e8" stroke="#5060c8" stroke-width="1.5" opacity="0.9"/>
<circle cx="159" cy="306.2" r="6" fill="#8fa0e8" stroke="#5060c8" stroke-width="1.5" opacity="0.9"/>
<circle cx="166" cy="301.8" r="6" fill="#8fa0e8" stroke="#5060c8" stroke-width="1.5" opacity="0.9"/>
<circle cx="173" cy="297.5" r="6" fill="#8fa0e8" stroke="#5060c8" stroke-width="1.5" opacity="0.9"/>
<circle cx="180" cy="293.1" r="6" fill="#8fa0e8" stroke="#5060c8" stroke-width="1.5" opacity="0.9"/>
<circle cx="187" cy="288.8" r="6" fill="#8fa0e8" stroke="#5060c8" stroke-width="1.5" opacity="0.9"/>
<circle cx="194" cy="284.4" r="6" fill="#8fa0e8" stroke="#5060c8" stroke-width="1.5" opacity="0.9"/>
<circle cx="201" cy="280.1" r="6" fill="#8fa0e8" stroke="#5060c8" stroke-width="1.5" opacity="0.9"/>
<circle cx="208" cy="275.7" r="6" fill="#8fa0e8" stroke="#5060c8" stroke-width="1.5" opacity="0.9"/>
<circle cx="216" cy="270.8" r="6" fill="#8fa0e8" stroke="#5060c8" stroke-width="1.5" opacity="0.9"/>
<circle cx="224" cy="265.8" r="6" fill="#8fa0e8" stroke="#5060c8" stroke-width="1.5" opacity="0.9"/>
<circle cx="233" cy="260.2" r="6" fill="#8fa0e8" stroke="#5060c8" stroke-width="1.5" opacity="0.9"/>
<circle cx="243" cy="254.0" r="6" fill="#8fa0e8" stroke="#5060c8" stroke-width="1.5" opacity="0.9"/>
<circle cx="258" cy="244.6" r="6" fill="#8fa0e8" stroke="#5060c8" stroke-width="1.5" opacity="0.9"/>
<circle cx="276" cy="233.5" r="6" fill="#8fa0e8" stroke="#5060c8" stroke-width="1.5" opacity="0.9"/>
<circle cx="298" cy="219.8" r="6" fill="#8fa0e8" stroke="#5060c8" stroke-width="1.5" opacity="0.9"/>
<circle cx="325" cy="203.0" r="6" fill="#8fa0e8" stroke="#5060c8" stroke-width="1.5" opacity="0.9"/>
<circle cx="358" cy="182.5" r="6" fill="#8fa0e8" stroke="#5060c8" stroke-width="1.5" opacity="0.9"/>
<circle cx="378" cy="170.1" r="6" fill="#8fa0e8" stroke="#5060c8" stroke-width="1.5" opacity="0.9"/>
<circle cx="403" cy="154.5" r="6" fill="#8fa0e8" stroke="#5060c8" stroke-width="1.5" opacity="0.9"/>
<circle cx="430" cy="137.7" r="6" fill="#8fa0e8" stroke="#5060c8" stroke-width="1.5" opacity="0.9"/>
<circle cx="463" cy="117.2" r="6" fill="#8fa0e8" stroke="#5060c8" stroke-width="1.5" opacity="0.9"/>
<circle cx="503" cy="92.4" r="6" fill="#8fa0e8" stroke="#5060c8" stroke-width="1.5" opacity="0.9"/>
<path d="M140 318 L510 88" stroke="#f03838" stroke-width="3" fill="none"/>
<text x="119" y="84.5" font-size="19" text-anchor="end" fill="#555">21</text>
<text x="119" y="128.5" font-size="19" text-anchor="end" fill="#555">18</text>
<text x="119" y="172.5" font-size="19" text-anchor="end" fill="#555">15</text>
<text x="119" y="216.5" font-size="19" text-anchor="end" fill="#555">12</text>
<text x="119" y="261.5" font-size="19" text-anchor="end" fill="#555">9</text>
<text x="119" y="304.5" font-size="19" text-anchor="end" fill="#555">6</text>
<text x="232" y="337" font-size="19" text-anchor="middle" fill="#555">1.5</text>
<text x="392" y="337" font-size="19" text-anchor="middle" fill="#555">3.0</text>
<text x="323" y="364" font-size="23" text-anchor="middle" fill="#444">1000/T (K<tspan font-size="14" dy="-8">-1</tspan><tspan dy="8">)</tspan></text>
<text transform="translate(90,195) rotate(-90)" font-size="22" text-anchor="middle" fill="#444">lnρ (Ω cm)</text>
</g>

<rect x="712.6" y="154.5" width="116.8" height="80.2" rx="11.5" ry="11.5" fill="#fff" stroke="#1b2a52" stroke-width="1.6" stroke-dasharray="6.2 3.2"/>
<g transform="translate(680,140) scale(0.25445)">
<rect x="203" y="68" width="365" height="254" fill="#fff" stroke="#9a9a9a" stroke-width="2"/>
<polygon points="203,128 275,225 348,285 420,262 493,235 568,95 568,140 493,245 420,275 348,298 275,262 203,195" fill="#cdb8ec"/>
<rect x="199" y="155" width="12" height="10" fill="#1fa85a"/>
<rect x="269" y="238" width="12" height="10" fill="#1fa85a"/>
<rect x="342" y="286" width="12" height="10" fill="#1fa85a"/>
<rect x="415" y="262" width="12" height="10" fill="#1fa85a"/>
<rect x="487" y="233" width="12" height="10" fill="#1fa85a"/>
<rect x="559" y="107" width="12" height="10" fill="#1fa85a"/>
<text x="200" y="74" font-size="18" text-anchor="end" fill="#333" stroke="#333" stroke-width="0.18">5100</text>
<path d="M203 68 h5" stroke="#666" stroke-width="1.5"/>
<text x="200" y="114" font-size="18" text-anchor="end" fill="#333" stroke="#333" stroke-width="0.18">5000</text>
<path d="M203 108 h5" stroke="#666" stroke-width="1.5"/>
<text x="200" y="158" font-size="18" text-anchor="end" fill="#333" stroke="#333" stroke-width="0.18">4900</text>
<path d="M203 152 h5" stroke="#666" stroke-width="1.5"/>
<text x="200" y="200" font-size="18" text-anchor="end" fill="#333" stroke="#333" stroke-width="0.18">4800</text>
<path d="M203 194 h5" stroke="#666" stroke-width="1.5"/>
<text x="200" y="243" font-size="18" text-anchor="end" fill="#333" stroke="#333" stroke-width="0.18">4700</text>
<path d="M203 237 h5" stroke="#666" stroke-width="1.5"/>
<text x="200" y="286" font-size="18" text-anchor="end" fill="#333" stroke="#333" stroke-width="0.18">4600</text>
<path d="M203 280 h5" stroke="#666" stroke-width="1.5"/>
<text x="200" y="328" font-size="18" text-anchor="end" fill="#333" stroke="#333" stroke-width="0.18">4500</text>
<path d="M203 322 h5" stroke="#666" stroke-width="1.5"/>
<text x="203" y="340" font-size="18" text-anchor="middle" fill="#333" stroke="#333" stroke-width="0.18">0.00</text>
<path d="M203 322 v-5" stroke="#666" stroke-width="1.5"/>
<text x="275" y="340" font-size="18" text-anchor="middle" fill="#333" stroke="#333" stroke-width="0.18">0.05</text>
<path d="M275 322 v-5" stroke="#666" stroke-width="1.5"/>
<text x="348" y="340" font-size="18" text-anchor="middle" fill="#333" stroke="#333" stroke-width="0.18">0.10</text>
<path d="M348 322 v-5" stroke="#666" stroke-width="1.5"/>
<text x="420" y="340" font-size="18" text-anchor="middle" fill="#333" stroke="#333" stroke-width="0.18">0.15</text>
<path d="M420 322 v-5" stroke="#666" stroke-width="1.5"/>
<text x="493" y="340" font-size="18" text-anchor="middle" fill="#333" stroke="#333" stroke-width="0.18">0.20</text>
<path d="M493 322 v-5" stroke="#666" stroke-width="1.5"/>
<text x="566" y="340" font-size="18" text-anchor="middle" fill="#333" stroke="#333" stroke-width="0.18">0.25</text>
<path d="M566 322 v-5" stroke="#666" stroke-width="1.5"/>
<text x="385" y="364" font-size="22" text-anchor="middle" fill="#222" stroke="#222" stroke-width="0.18">Sr content</text>
<text transform="translate(150,195) rotate(-90)" font-size="20" text-anchor="middle" fill="#222" stroke="#222" stroke-width="0.18">Material constant, B (K)</text>
</g>

<rect x="506.5" y="386.8" width="117.7" height="80.5" rx="12" ry="12" fill="#fff" stroke="#1b2a52" stroke-width="1.6" stroke-dasharray="6.2 3.2"/>
<g transform="translate(490,340) scale(0.27503)">
<path d="M103 178 V423 H482" fill="none" stroke="#444" stroke-width="2"/>
<rect x="118" y="218" width="34" height="205" fill="#9aa2d8"/>
<text x="139.0" y="211" font-size="16.5" text-anchor="middle" fill="#222">7.34%</text>
<rect x="182" y="327" width="33" height="96" fill="#9aa2d8"/>
<text x="202.5" y="320" font-size="16.5" text-anchor="middle" fill="#222">3.49%</text>
<rect x="246" y="398" width="33" height="25" fill="#9aa2d8"/>
<text x="266.5" y="391" font-size="16.5" text-anchor="middle" fill="#f02020">0.95%</text>
<rect x="309" y="398" width="33" height="25" fill="#9aa2d8"/>
<text x="329.5" y="391" font-size="16.5" text-anchor="middle" fill="#f02020">0.96%</text>
<rect x="373" y="377" width="33" height="46" fill="#9aa2d8"/>
<text x="393.5" y="370" font-size="16.5" text-anchor="middle" fill="#222">1.72%</text>
<rect x="437" y="300" width="31" height="123" fill="#9aa2d8"/>
<text x="456.5" y="293" font-size="16.5" text-anchor="middle" fill="#222">4.44%</text>
<text x="135.0" y="441" font-size="15.5" text-anchor="middle" fill="#444">0.00</text>
<text x="198.5" y="441" font-size="15.5" text-anchor="middle" fill="#444">0.05</text>
<text x="262.5" y="441" font-size="15.5" text-anchor="middle" fill="#444">0.10</text>
<text x="325.5" y="441" font-size="15.5" text-anchor="middle" fill="#444">0.15</text>
<text x="389.5" y="441" font-size="15.5" text-anchor="middle" fill="#444">0.20</text>
<text x="452.5" y="441" font-size="15.5" text-anchor="middle" fill="#444">0.25</text>
<text x="98" y="203" font-size="14.5" text-anchor="end" fill="#444">8</text>
<path d="M103 198 h5" stroke="#444" stroke-width="1.5"/>
<text x="98" y="260" font-size="14.5" text-anchor="end" fill="#444">6</text>
<path d="M103 255 h5" stroke="#444" stroke-width="1.5"/>
<text x="98" y="316" font-size="14.5" text-anchor="end" fill="#444">4</text>
<path d="M103 311 h5" stroke="#444" stroke-width="1.5"/>
<text x="98" y="372" font-size="14.5" text-anchor="end" fill="#444">2</text>
<path d="M103 367 h5" stroke="#444" stroke-width="1.5"/>
<text x="98" y="428" font-size="14.5" text-anchor="end" fill="#444">0</text>
<path d="M103 423 h5" stroke="#444" stroke-width="1.5"/>
<text x="296" y="459" font-size="19" text-anchor="middle" fill="#333">Sr content</text>
<text x="312" y="241" font-size="19" text-anchor="middle" fill="#222">Aging drift rate:</text>
<text x="322" y="263" font-size="18.5" text-anchor="middle" fill="#333" font-style="italic">η = (ΔR<tspan font-size="10" dy="3">10</tspan><tspan dy="-3">/R</tspan><tspan font-size="10" dy="3">0</tspan><tspan dy="-3">)-(ΔR</tspan><tspan font-size="10" dy="3">0</tspan><tspan dy="-3">/R</tspan><tspan font-size="10" dy="3">0</tspan><tspan dy="-3">)</tspan></text>
<text transform="translate(84,295) rotate(-90)" font-size="16" text-anchor="middle" fill="#222">η (%)</text>
</g>

<rect x="709.7" y="385.9" width="116.0" height="79.2" rx="11.5" ry="11.5" fill="#fff" stroke="#1b2a52" stroke-width="1.6" stroke-dasharray="6.2 3.2"/>
<g transform="translate(680,340) scale(0.27488)">
<rect x="158" y="172" width="357" height="235" fill="#fff" stroke="#8a8a8a" stroke-width="2"/>
<rect x="157" y="260" width="10" height="10" rx="2.5" fill="#5f6bc8"/>
<rect x="168" y="260" width="10" height="10" rx="2.5" fill="#5f6bc8"/>
<rect x="179" y="259" width="10" height="10" rx="2.5" fill="#5f6bc8"/>
<rect x="198" y="257" width="10" height="10" rx="2.5" fill="#5f6bc8"/>
<rect x="217" y="255" width="10" height="10" rx="2.5" fill="#5f6bc8"/>
<rect x="236" y="252" width="10" height="10" rx="2.5" fill="#5f6bc8"/>
<rect x="255" y="249" width="10" height="10" rx="2.5" fill="#5f6bc8"/>
<rect x="274" y="247" width="10" height="10" rx="2.5" fill="#5f6bc8"/>
<rect x="293" y="246" width="10" height="10" rx="2.5" fill="#5f6bc8"/>
<rect x="312" y="248" width="10" height="10" rx="2.5" fill="#5f6bc8"/>
<rect x="331" y="252" width="10" height="10" rx="2.5" fill="#5f6bc8"/>
<rect x="350" y="258" width="10" height="10" rx="2.5" fill="#5f6bc8"/>
<rect x="369" y="265" width="10" height="10" rx="2.5" fill="#5f6bc8"/>
<rect x="388" y="272" width="10" height="10" rx="2.5" fill="#5f6bc8"/>
<rect x="407" y="279" width="10" height="10" rx="2.5" fill="#5f6bc8"/>
<rect x="426" y="287" width="10" height="10" rx="2.5" fill="#5f6bc8"/>
<rect x="445" y="295" width="10" height="10" rx="2.5" fill="#5f6bc8"/>
<rect x="464" y="303" width="10" height="10" rx="2.5" fill="#5f6bc8"/>
<rect x="483" y="311" width="10" height="10" rx="2.5" fill="#5f6bc8"/>
<rect x="502" y="317" width="10" height="10" rx="2.5" fill="#5f6bc8"/>
<circle cx="162" cy="286.0" r="5.5" fill="#f6e21a"/>
<circle cx="173" cy="286.0" r="5.5" fill="#f6e21a"/>
<circle cx="184" cy="286.0" r="5.5" fill="#f6e21a"/>
<circle cx="203" cy="286.0" r="5.5" fill="#f6e21a"/>
<circle cx="222" cy="286.0" r="5.5" fill="#f6e21a"/>
<circle cx="241" cy="286.0" r="5.5" fill="#f6e21a"/>
<circle cx="260" cy="286.0" r="5.5" fill="#f6e21a"/>
<circle cx="279" cy="286.0" r="5.5" fill="#f6e21a"/>
<circle cx="298" cy="286.0" r="5.5" fill="#f6e21a"/>
<circle cx="317" cy="286.0" r="5.5" fill="#f6e21a"/>
<circle cx="336" cy="286.0" r="5.5" fill="#f6e21a"/>
<circle cx="355" cy="286.0" r="5.5" fill="#f6e21a"/>
<circle cx="374" cy="286.0" r="5.5" fill="#f6e21a"/>
<circle cx="393" cy="286.0" r="5.5" fill="#f6e21a"/>
<circle cx="412" cy="286.7" r="5.5" fill="#f6e21a"/>
<circle cx="431" cy="287.7" r="5.5" fill="#f6e21a"/>
<circle cx="450" cy="288.8" r="5.5" fill="#f6e21a"/>
<circle cx="469" cy="289.9" r="5.5" fill="#f6e21a"/>
<circle cx="488" cy="290.9" r="5.5" fill="#f6e21a"/>
<circle cx="507" cy="292.0" r="5.5" fill="#f6e21a"/>
<path d="M350 187 h36" stroke="#aab0e0" stroke-width="1.5"/><rect x="363" y="182" width="10" height="10" rx="2.5" fill="#5f6bc8"/>
<path d="M350 211 h36" stroke="#f6ee90" stroke-width="1.5"/><circle cx="368" cy="211" r="5.5" fill="#f6e21a"/>
<text x="389" y="192.5" font-size="15.5" fill="#111" stroke="#111" stroke-width="0.3">Before aging</text>
<text x="389" y="216.5" font-size="15.5" fill="#111" stroke="#111" stroke-width="0.3">After 1000h aging</text>
<text x="155" y="183" font-size="14" text-anchor="end" fill="#222" stroke="#222" stroke-width="0.3" textLength="26" lengthAdjust="spacingAndGlyphs">5400</text>
<text x="155" y="219" font-size="14" text-anchor="end" fill="#222" stroke="#222" stroke-width="0.3" textLength="26" lengthAdjust="spacingAndGlyphs">5100</text>
<text x="155" y="255" font-size="14" text-anchor="end" fill="#222" stroke="#222" stroke-width="0.3" textLength="26" lengthAdjust="spacingAndGlyphs">4800</text>
<text x="155" y="291" font-size="14" text-anchor="end" fill="#222" stroke="#222" stroke-width="0.3" textLength="26" lengthAdjust="spacingAndGlyphs">4500</text>
<text x="155" y="327" font-size="14" text-anchor="end" fill="#222" stroke="#222" stroke-width="0.3" textLength="26" lengthAdjust="spacingAndGlyphs">4200</text>
<text x="155" y="363" font-size="14" text-anchor="end" fill="#222" stroke="#222" stroke-width="0.3" textLength="26" lengthAdjust="spacingAndGlyphs">3900</text>
<text x="155" y="400" font-size="14" text-anchor="end" fill="#222" stroke="#222" stroke-width="0.3" textLength="26" lengthAdjust="spacingAndGlyphs">3600</text>
<text x="175" y="424" font-size="14.5" text-anchor="middle" fill="#222" stroke="#222" stroke-width="0.3">400</text>
<path d="M175 407 v-4" stroke="#666" stroke-width="1.5"/>
<text x="213" y="424" font-size="14.5" text-anchor="middle" fill="#222" stroke="#222" stroke-width="0.3">500</text>
<path d="M213 407 v-4" stroke="#666" stroke-width="1.5"/>
<text x="251" y="424" font-size="14.5" text-anchor="middle" fill="#222" stroke="#222" stroke-width="0.3">600</text>
<path d="M251 407 v-4" stroke="#666" stroke-width="1.5"/>
<text x="289" y="424" font-size="14.5" text-anchor="middle" fill="#222" stroke="#222" stroke-width="0.3">700</text>
<path d="M289 407 v-4" stroke="#666" stroke-width="1.5"/>
<text x="327" y="424" font-size="14.5" text-anchor="middle" fill="#222" stroke="#222" stroke-width="0.3">800</text>
<path d="M327 407 v-4" stroke="#666" stroke-width="1.5"/>
<text x="365" y="424" font-size="14.5" text-anchor="middle" fill="#222" stroke="#222" stroke-width="0.3">900</text>
<path d="M365 407 v-4" stroke="#666" stroke-width="1.5"/>
<text x="403" y="424" font-size="14.5" text-anchor="middle" fill="#222" stroke="#222" stroke-width="0.3">1000</text>
<path d="M403 407 v-4" stroke="#666" stroke-width="1.5"/>
<text x="441" y="424" font-size="14.5" text-anchor="middle" fill="#222" stroke="#222" stroke-width="0.3">1100</text>
<path d="M441 407 v-4" stroke="#666" stroke-width="1.5"/>
<text x="479" y="424" font-size="14.5" text-anchor="middle" fill="#222" stroke="#222" stroke-width="0.3">1200</text>
<path d="M479 407 v-4" stroke="#666" stroke-width="1.5"/>
<text x="515" y="424" font-size="14.5" text-anchor="middle" fill="#222" stroke="#222" stroke-width="0.3">1300</text>
<path d="M515 407 v-4" stroke="#666" stroke-width="1.5"/>
<text x="338" y="449" font-size="16.5" text-anchor="middle" fill="#111" stroke="#111" stroke-width="0.3">Temperature (K)</text>
<text transform="translate(124,292) rotate(-90)" font-size="18" text-anchor="middle" fill="#444" stroke="#444" stroke-width="0.3">Material constant, B (K)</text>
</g>
<text class="t18b" x="100.2" y="255.8">Lattice distortion</text>
<text class="t18b" x="256.6" y="255.8">Crystal structure</text>
<text class="t18b" x="91.0" y="343">Dislocation</text>
<text class="t18b" x="133.2" y="374">Strain</text>
<text class="t18b" x="292.0" y="374">Twins</text>
<text class="t18b" x="535.3" y="256.3">Linearity</text>
<text class="t18b" x="690.7" y="256.2">Material constant</text>
<text class="t18b" x="529" y="374.4">Aging rate</text>
<text class="t18b" x="696.6" y="374.4">Thermal stability</text>
</svg></body></html>
